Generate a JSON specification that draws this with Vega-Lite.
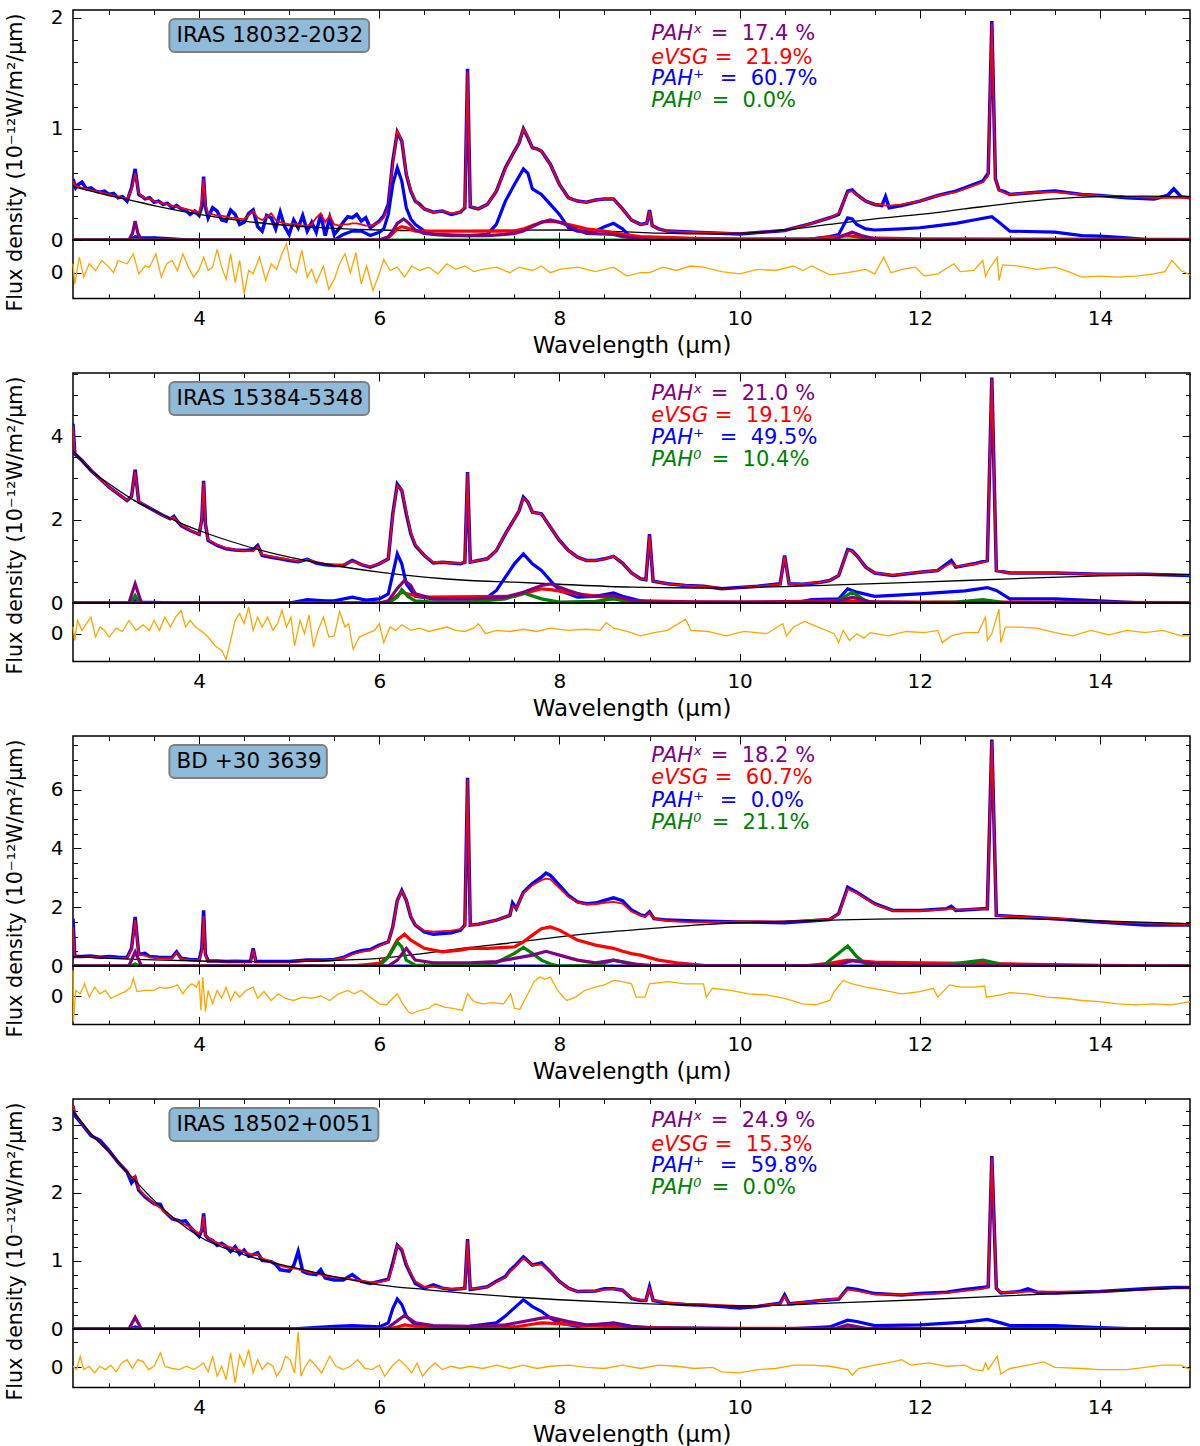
{
"$schema": "https://vega.github.io/schema/vega-lite/v6.json",
"background": "white",
"padding": {"left": 3, "top": 7, "right": 5, "bottom": 0},
"config": {
  "view": {"stroke": "black", "strokeWidth": 1.5},
  "axis": {"domain": false, "grid": false, "tickColor": "black", "tickWidth": 1, "tickSize": -8, "format": "~g",
    "labelFont": "DejaVu Sans", "labelFontSize": 20, "labelColor": "black", "labelPadding": 18,
    "titleFont": "DejaVu Sans", "titleFontSize": 23, "titleFontWeight": "normal", "titleColor": "black"},
  "text": {"font": "DejaVu Sans"}
},
"datasets": {
"s1": [
{"w":2.6,"o":0.55,"m":0.53},{"w":2.63,"o":0.47,"m":0.48},{"w":2.66,"o":0.5,"m":0.48},{"w":2.7,"o":0.52,"m":0.47},{"w":2.75,"o":0.46,"m":0.46},{"w":2.8,"o":0.47,"m":0.45},{"w":2.85,"o":0.44,"m":0.44},{"w":2.9,"o":0.43,"m":0.43},{"w":2.95,"o":0.44,"m":0.42},{"w":3.0,"o":0.41,"m":0.41},{"w":3.05,"o":0.42,"m":0.4},{"w":3.1,"o":0.38,"m":0.39},{"w":3.15,"o":0.39,"m":0.38},{"w":3.2,"o":0.35,"m":0.37},{"w":3.25,"o":0.47,"m":0.45},{"w":3.29,"o":0.64,"m":0.6},{"w":3.33,"o":0.41,"m":0.42},{"w":3.37,"o":0.39,"m":0.39},{"w":3.4,"o":0.37,"m":0.38},{"w":3.45,"o":0.38,"m":0.37},{"w":3.5,"o":0.34,"m":0.35},{"w":3.55,"o":0.35,"m":0.34},{"w":3.6,"o":0.32,"m":0.33},{"w":3.65,"o":0.33,"m":0.32},{"w":3.7,"o":0.29,"m":0.31},{"w":3.75,"o":0.31,"m":0.3},{"w":3.8,"o":0.28,"m":0.29},{"w":3.85,"o":0.27,"m":0.28},{"w":3.9,"o":0.23,"m":0.27},{"w":3.95,"o":0.26,"m":0.26},{"w":4.0,"o":0.22,"m":0.25},{"w":4.03,"o":0.3,"m":0.35},{"w":4.05,"o":0.57,"m":0.55},{"w":4.07,"o":0.3,"m":0.32},{"w":4.1,"o":0.2,"m":0.24},{"w":4.15,"o":0.29,"m":0.23},{"w":4.2,"o":0.26,"m":0.22},{"w":4.25,"o":0.18,"m":0.22},{"w":4.3,"o":0.17,"m":0.21},{"w":4.35,"o":0.27,"m":0.2},{"w":4.4,"o":0.23,"m":0.2},{"w":4.45,"o":0.14,"m":0.19},{"w":4.5,"o":0.16,"m":0.19},{"w":4.55,"o":0.24,"m":0.22},{"w":4.6,"o":0.27,"m":0.26},{"w":4.65,"o":0.12,"m":0.2},{"w":4.7,"o":0.08,"m":0.18},{"w":4.75,"o":0.22,"m":0.21},{"w":4.8,"o":0.2,"m":0.24},{"w":4.85,"o":0.1,"m":0.18},{"w":4.9,"o":0.25,"m":0.16},{"w":4.95,"o":0.12,"m":0.15},{"w":5.0,"o":0.05,"m":0.14},{"w":5.05,"o":0.18,"m":0.15},{"w":5.1,"o":0.11,"m":0.14},{"w":5.15,"o":0.22,"m":0.13},{"w":5.2,"o":0.08,"m":0.13},{"w":5.25,"o":0.16,"m":0.14},{"w":5.3,"o":0.07,"m":0.2},{"w":5.35,"o":0.23,"m":0.24},{"w":5.4,"o":0.04,"m":0.16},{"w":5.45,"o":0.2,"m":0.22},{"w":5.5,"o":0.05,"m":0.14},{"w":5.55,"o":0.1,"m":0.13},{"w":5.6,"o":0.16,"m":0.14},{"w":5.65,"o":0.21,"m":0.14},{"w":5.7,"o":0.2,"m":0.15},{"w":5.75,"o":0.23,"m":0.15},{"w":5.8,"o":0.17,"m":0.14},{"w":5.85,"o":0.2,"m":0.13},{"w":5.9,"o":0.11,"m":0.13},{"w":5.95,"o":0.14,"m":0.14},{"w":6.0,"o":0.17,"m":0.16},{"w":6.05,"o":0.22,"m":0.2},{"w":6.1,"o":0.32,"m":0.3},{"w":6.15,"o":0.71,"m":0.68},{"w":6.2,"o":0.97,"m":0.98},{"w":6.25,"o":0.89,"m":0.9},{"w":6.3,"o":0.59,"m":0.6},{"w":6.35,"o":0.44,"m":0.45},{"w":6.4,"o":0.35,"m":0.36},{"w":6.45,"o":0.32,"m":0.31},{"w":6.5,"o":0.28,"m":0.28},{"w":6.6,"o":0.25,"m":0.25},{"w":6.7,"o":0.26,"m":0.26},{"w":6.8,"o":0.23,"m":0.24},{"w":6.9,"o":0.25,"m":0.25},{"w":6.95,"o":0.29,"m":0.3},{"w":6.98,"o":1.54,"m":1.52},{"w":7.01,"o":0.3,"m":0.31},{"w":7.05,"o":0.29,"m":0.29},{"w":7.1,"o":0.28,"m":0.28},{"w":7.2,"o":0.32,"m":0.32},{"w":7.3,"o":0.44,"m":0.44},{"w":7.4,"o":0.65,"m":0.64},{"w":7.5,"o":0.8,"m":0.8},{"w":7.55,"o":0.87,"m":0.87},{"w":7.6,"o":1.0,"m":1.0},{"w":7.65,"o":0.92,"m":0.93},{"w":7.7,"o":0.83,"m":0.83},{"w":7.75,"o":0.82,"m":0.82},{"w":7.8,"o":0.8,"m":0.8},{"w":7.9,"o":0.68,"m":0.68},{"w":8.0,"o":0.5,"m":0.5},{"w":8.1,"o":0.38,"m":0.38},{"w":8.2,"o":0.35,"m":0.35},{"w":8.3,"o":0.34,"m":0.34},{"w":8.4,"o":0.36,"m":0.36},{"w":8.5,"o":0.37,"m":0.37},{"w":8.6,"o":0.37,"m":0.37},{"w":8.7,"o":0.28,"m":0.28},{"w":8.8,"o":0.18,"m":0.18},{"w":8.9,"o":0.14,"m":0.14},{"w":8.97,"o":0.15,"m":0.15},{"w":9.0,"o":0.27,"m":0.26},{"w":9.03,"o":0.13,"m":0.13},{"w":9.1,"o":0.1,"m":0.1},{"w":9.2,"o":0.08,"m":0.08},{"w":9.5,"o":0.07,"m":0.07},{"w":10.0,"o":0.055,"m":0.06},{"w":10.5,"o":0.085,"m":0.085},{"w":10.8,"o":0.15,"m":0.15},{"w":11.0,"o":0.2,"m":0.2},{"w":11.1,"o":0.23,"m":0.24},{"w":11.2,"o":0.44,"m":0.43},{"w":11.25,"o":0.45,"m":0.44},{"w":11.3,"o":0.41,"m":0.41},{"w":11.4,"o":0.35,"m":0.35},{"w":11.5,"o":0.32,"m":0.32},{"w":11.58,"o":0.31,"m":0.32},{"w":11.62,"o":0.39,"m":0.31},{"w":11.66,"o":0.29,"m":0.31},{"w":11.8,"o":0.31,"m":0.32},{"w":12.0,"o":0.35,"m":0.35},{"w":12.2,"o":0.4,"m":0.4},{"w":12.4,"o":0.44,"m":0.43},{"w":12.5,"o":0.47,"m":0.46},{"w":12.6,"o":0.5,"m":0.49},{"w":12.7,"o":0.53,"m":0.52},{"w":12.76,"o":0.6,"m":0.58},{"w":12.8,"o":1.97,"m":1.95},{"w":12.84,"o":0.55,"m":0.55},{"w":12.88,"o":0.45,"m":0.45},{"w":12.95,"o":0.43,"m":0.42},{"w":13.0,"o":0.41,"m":0.41},{"w":13.3,"o":0.43,"m":0.43},{"w":13.5,"o":0.44,"m":0.43},{"w":13.8,"o":0.41,"m":0.41},{"w":14.0,"o":0.4,"m":0.4},{"w":14.3,"o":0.38,"m":0.39},{"w":14.6,"o":0.37,"m":0.38},{"w":14.75,"o":0.4,"m":0.38},{"w":14.82,"o":0.46,"m":0.38},{"w":14.9,"o":0.39,"m":0.38},{"w":15.0,"o":0.38,"m":0.38}
],
"k1": [
{"k":"c","w":2.6,"v":0.48},{"k":"c","w":2.8,"v":0.44},{"k":"c","w":3.0,"v":0.4},{"k":"c","w":3.2,"v":0.365},{"k":"c","w":3.5,"v":0.31},{"k":"c","w":3.8,"v":0.26},{"k":"c","w":4.0,"v":0.23},{"k":"c","w":4.5,"v":0.17},{"k":"c","w":5.0,"v":0.13},{"k":"c","w":5.5,"v":0.105},{"k":"c","w":6.0,"v":0.09},{"k":"c","w":6.5,"v":0.085},{"k":"c","w":7.0,"v":0.085},{"k":"c","w":7.5,"v":0.088},{"k":"c","w":8.0,"v":0.09},{"k":"c","w":8.5,"v":0.08},{"k":"c","w":9.0,"v":0.065},{"k":"c","w":9.5,"v":0.055},{"k":"c","w":10.0,"v":0.06},{"k":"c","w":10.5,"v":0.09},{"k":"c","w":11.0,"v":0.14},{"k":"c","w":11.5,"v":0.19},{"k":"c","w":12.0,"v":0.23},{"k":"c","w":12.5,"v":0.28},{"k":"c","w":13.0,"v":0.33},{"k":"c","w":13.5,"v":0.37},{"k":"c","w":14.0,"v":0.39},{"k":"c","w":14.5,"v":0.395},{"k":"c","w":15.0,"v":0.39},
{"k":"a","w":2.6,"v":0},{"k":"a","w":3.22,"v":0},{"k":"a","w":3.26,"v":0.06},{"k":"a","w":3.29,"v":0.17},{"k":"a","w":3.32,"v":0.06},{"k":"a","w":3.36,"v":0},{"k":"a","w":6.0,"v":0},{"k":"a","w":6.1,"v":0.03},{"k":"a","w":6.15,"v":0.08},{"k":"a","w":6.2,"v":0.15},{"k":"a","w":6.27,"v":0.19},{"k":"a","w":6.33,"v":0.15},{"k":"a","w":6.4,"v":0.09},{"k":"a","w":6.5,"v":0.06},{"k":"a","w":6.6,"v":0.05},{"k":"a","w":6.8,"v":0.04},{"k":"a","w":7.2,"v":0.04},{"k":"a","w":7.4,"v":0.05},{"k":"a","w":7.5,"v":0.06},{"k":"a","w":7.6,"v":0.08},{"k":"a","w":7.7,"v":0.12},{"k":"a","w":7.8,"v":0.16},{"k":"a","w":7.9,"v":0.18},{"k":"a","w":8.0,"v":0.16},{"k":"a","w":8.1,"v":0.13},{"k":"a","w":8.2,"v":0.09},{"k":"a","w":8.3,"v":0.06},{"k":"a","w":8.6,"v":0.05},{"k":"a","w":8.7,"v":0.03},{"k":"a","w":8.8,"v":0.02},{"k":"a","w":9.0,"v":0},{"k":"a","w":11.05,"v":0},{"k":"a","w":11.15,"v":0.04},{"k":"a","w":11.25,"v":0.07},{"k":"a","w":11.35,"v":0.04},{"k":"a","w":11.5,"v":0.01},{"k":"a","w":11.7,"v":0},{"k":"a","w":15,"v":0},
{"k":"b","w":2.6,"v":0},{"k":"b","w":3.22,"v":0},{"k":"b","w":3.29,"v":0.03},{"k":"b","w":3.35,"v":0.02},{"k":"b","w":3.5,"v":0.02},{"k":"b","w":3.7,"v":0.01},{"k":"b","w":3.9,"v":0},{"k":"b","w":5.5,"v":0},{"k":"b","w":5.6,"v":0.05},{"k":"b","w":5.7,"v":0.08},{"k":"b","w":5.8,"v":0.08},{"k":"b","w":5.9,"v":0.04},{"k":"b","w":6.0,"v":0.07},{"k":"b","w":6.05,"v":0.1},{"k":"b","w":6.1,"v":0.23},{"k":"b","w":6.15,"v":0.5},{"k":"b","w":6.2,"v":0.65},{"k":"b","w":6.25,"v":0.53},{"k":"b","w":6.3,"v":0.29},{"k":"b","w":6.35,"v":0.19},{"k":"b","w":6.4,"v":0.14},{"k":"b","w":6.5,"v":0.08},{"k":"b","w":6.6,"v":0.05},{"k":"b","w":7.0,"v":0.04},{"k":"b","w":7.2,"v":0.05},{"k":"b","w":7.3,"v":0.14},{"k":"b","w":7.4,"v":0.35},{"k":"b","w":7.5,"v":0.5},{"k":"b","w":7.6,"v":0.64},{"k":"b","w":7.65,"v":0.6},{"k":"b","w":7.7,"v":0.46},{"k":"b","w":7.8,"v":0.41},{"k":"b","w":7.9,"v":0.32},{"k":"b","w":8.0,"v":0.23},{"k":"b","w":8.1,"v":0.11},{"k":"b","w":8.2,"v":0.08},{"k":"b","w":8.4,"v":0.08},{"k":"b","w":8.5,"v":0.12},{"k":"b","w":8.6,"v":0.15},{"k":"b","w":8.7,"v":0.1},{"k":"b","w":8.8,"v":0.02},{"k":"b","w":8.9,"v":0},{"k":"b","w":10.7,"v":0},{"k":"b","w":11.0,"v":0.03},{"k":"b","w":11.1,"v":0.05},{"k":"b","w":11.2,"v":0.2},{"k":"b","w":11.25,"v":0.19},{"k":"b","w":11.3,"v":0.14},{"k":"b","w":11.4,"v":0.1},{"k":"b","w":11.5,"v":0.09},{"k":"b","w":11.8,"v":0.1},{"k":"b","w":12.0,"v":0.11},{"k":"b","w":12.2,"v":0.13},{"k":"b","w":12.4,"v":0.15},{"k":"b","w":12.6,"v":0.18},{"k":"b","w":12.8,"v":0.21},{"k":"b","w":12.88,"v":0.16},{"k":"b","w":13.0,"v":0.08},{"k":"b","w":13.5,"v":0.07},{"k":"b","w":13.8,"v":0.04},{"k":"b","w":14.0,"v":0.035},{"k":"b","w":14.3,"v":0.02},{"k":"b","w":14.6,"v":0},{"k":"b","w":15,"v":0},
{"k":"e","w":2.6,"v":0},{"k":"e","w":6.0,"v":0},{"k":"e","w":6.1,"v":0.02},{"k":"e","w":6.15,"v":0.06},{"k":"e","w":6.2,"v":0.1},{"k":"e","w":6.25,"v":0.12},{"k":"e","w":6.3,"v":0.11},{"k":"e","w":6.4,"v":0.08},{"k":"e","w":7.5,"v":0.08},{"k":"e","w":7.6,"v":0.1},{"k":"e","w":7.7,"v":0.13},{"k":"e","w":7.8,"v":0.16},{"k":"e","w":7.9,"v":0.17},{"k":"e","w":8.0,"v":0.16},{"k":"e","w":8.1,"v":0.14},{"k":"e","w":8.2,"v":0.12},{"k":"e","w":8.3,"v":0.1},{"k":"e","w":8.5,"v":0.08},{"k":"e","w":8.7,"v":0.05},{"k":"e","w":8.9,"v":0.03},{"k":"e","w":9.5,"v":0.015},{"k":"e","w":10.0,"v":0.01},{"k":"e","w":10.8,"v":0.01},{"k":"e","w":11.2,"v":0.04},{"k":"e","w":11.4,"v":0.02},{"k":"e","w":12.0,"v":0.01},{"k":"e","w":15,"v":0.005},
{"k":"g","w":2.6,"v":0},{"k":"g","w":15,"v":0}
],
"r1": [
{"w":2.6,"v":0.08},{"w":2.62,"v":-0.1},{"w":2.67,"v":0.14},{"w":2.72,"v":-0.04},{"w":2.78,"v":0.08},{"w":2.85,"v":0.02},{"w":2.92,"v":0.11},{"w":3.0,"v":0.05},{"w":3.05,"v":0},{"w":3.1,"v":0.11},{"w":3.2,"v":0.08},{"w":3.27,"v":0.17},{"w":3.33,"v":-0.01},{"w":3.4,"v":0.06},{"w":3.45,"v":0.05},{"w":3.52,"v":0.17},{"w":3.58,"v":-0.04},{"w":3.64,"v":0.08},{"w":3.7,"v":0.11},{"w":3.76,"v":0.02},{"w":3.82,"v":0.17},{"w":3.88,"v":0.05},{"w":3.94,"v":-0.04},{"w":4.0,"v":0.03},{"w":4.05,"v":0.14},{"w":4.1,"v":0.02},{"w":4.15,"v":0.05},{"w":4.2,"v":0.21},{"w":4.25,"v":0.05},{"w":4.3,"v":-0.06},{"w":4.35,"v":0.17},{"w":4.4,"v":-0.09},{"w":4.45,"v":0.11},{"w":4.5,"v":-0.19},{"w":4.55,"v":0.02},{"w":4.6,"v":-0.01},{"w":4.67,"v":0.14},{"w":4.74,"v":-0.07},{"w":4.8,"v":0.08},{"w":4.86,"v":0.03},{"w":4.92,"v":0.17},{"w":4.97,"v":0.26},{"w":5.02,"v":0.05},{"w":5.08,"v":0},{"w":5.14,"v":0.2},{"w":5.2,"v":-0.04},{"w":5.25,"v":0.03},{"w":5.3,"v":-0.09},{"w":5.38,"v":0.06},{"w":5.44,"v":-0.15},{"w":5.5,"v":-0.06},{"w":5.56,"v":0.08},{"w":5.62,"v":0.17},{"w":5.68,"v":0},{"w":5.74,"v":0.18},{"w":5.8,"v":-0.1},{"w":5.86,"v":0.06},{"w":5.93,"v":-0.16},{"w":6.0,"v":-0.01},{"w":6.05,"v":0.12},{"w":6.12,"v":0.02},{"w":6.2,"v":0.05},{"w":6.28,"v":-0.04},{"w":6.36,"v":0.06},{"w":6.45,"v":0.02},{"w":6.55,"v":0.05},{"w":6.65,"v":-0.01},{"w":6.75,"v":0.08},{"w":6.85,"v":0.03},{"w":6.95,"v":0.06},{"w":7.05,"v":0.01},{"w":7.15,"v":0.03},{"w":7.3,"v":0.05},{"w":7.45,"v":0},{"w":7.55,"v":0.05},{"w":7.7,"v":0.02},{"w":7.8,"v":0.06},{"w":7.9,"v":0},{"w":8.0,"v":0.03},{"w":8.2,"v":0.05},{"w":8.4,"v":0.01},{"w":8.6,"v":0.05},{"w":8.75,"v":-0.03},{"w":8.9,"v":0},{"w":9.0,"v":0},{"w":9.15,"v":0.05},{"w":9.3,"v":0.02},{"w":9.45,"v":0.06},{"w":9.6,"v":0.05},{"w":9.8,"v":0.01},{"w":10.0,"v":-0.01},{"w":10.2,"v":0.03},{"w":10.4,"v":0.02},{"w":10.6,"v":0.06},{"w":10.7,"v":0.02},{"w":10.8,"v":0.06},{"w":11.0,"v":-0.02},{"w":11.2,"v":0},{"w":11.4,"v":0.03},{"w":11.5,"v":-0.01},{"w":11.6,"v":0.14},{"w":11.68,"v":0},{"w":11.8,"v":0.03},{"w":11.95,"v":0.05},{"w":12.05,"v":-0.03},{"w":12.2,"v":-0.01},{"w":12.38,"v":0.08},{"w":12.45,"v":0.01},{"w":12.6,"v":0.02},{"w":12.7,"v":0.11},{"w":12.73,"v":-0.03},{"w":12.76,"v":0.02},{"w":12.86,"v":0.14},{"w":12.88,"v":-0.07},{"w":12.92,"v":0.07},{"w":13.1,"v":0.06},{"w":13.3,"v":0.03},{"w":13.5,"v":0.05},{"w":13.65,"v":0.01},{"w":13.8,"v":-0.04},{"w":14.0,"v":-0.03},{"w":14.2,"v":-0.04},{"w":14.4,"v":-0.03},{"w":14.6,"v":-0.01},{"w":14.72,"v":0.01},{"w":14.8,"v":0.11},{"w":14.9,"v":0.02},{"w":15.0,"v":-0.02}
],
"t1": [
{"k":"a","t":"PAHˣ","u":"=\u00a0 17.4 %","y":1.852,"xu":9.68},
{"k":"e","t":"eVSG","u":"=\u00a0 21.9%","y":1.642,"xu":9.725},
{"k":"b","t":"PAH⁺","u":"=\u00a0 60.7%","y":1.447,"xu":9.78},
{"k":"g","t":"PAH⁰","u":"=\u00a0 0.0%","y":1.247,"xu":9.69}
],
"s2": [
{"w":2.6,"o":4.3,"m":4.25},{"w":2.62,"o":3.58,"m":3.6},{"w":2.7,"o":3.42,"m":3.42},{"w":2.8,"o":3.18,"m":3.18},{"w":2.9,"o":2.98,"m":2.98},{"w":3.0,"o":2.78,"m":2.78},{"w":3.1,"o":2.62,"m":2.62},{"w":3.2,"o":2.46,"m":2.47},{"w":3.25,"o":2.56,"m":2.56},{"w":3.29,"o":3.2,"m":3.15},{"w":3.33,"o":2.42,"m":2.44},{"w":3.4,"o":2.34,"m":2.34},{"w":3.5,"o":2.22,"m":2.22},{"w":3.6,"o":2.1,"m":2.1},{"w":3.68,"o":2.02,"m":2.02},{"w":3.72,"o":2.08,"m":2.06},{"w":3.76,"o":1.96,"m":1.96},{"w":3.8,"o":1.86,"m":1.88},{"w":3.9,"o":1.74,"m":1.75},{"w":4.0,"o":1.65,"m":1.65},{"w":4.03,"o":2.0,"m":2.0},{"w":4.05,"o":2.93,"m":2.9},{"w":4.07,"o":1.9,"m":1.9},{"w":4.1,"o":1.5,"m":1.52},{"w":4.2,"o":1.38,"m":1.4},{"w":4.3,"o":1.3,"m":1.32},{"w":4.4,"o":1.27,"m":1.28},{"w":4.5,"o":1.26,"m":1.25},{"w":4.6,"o":1.28,"m":1.24},{"w":4.65,"o":1.38,"m":1.35},{"w":4.7,"o":1.14,"m":1.16},{"w":4.8,"o":1.1,"m":1.12},{"w":4.9,"o":1.06,"m":1.08},{"w":5.0,"o":1.02,"m":1.04},{"w":5.1,"o":0.99,"m":1.0},{"w":5.2,"o":1.05,"m":1.04},{"w":5.3,"o":0.96,"m":0.98},{"w":5.4,"o":0.92,"m":0.94},{"w":5.5,"o":0.9,"m":0.92},{"w":5.6,"o":0.9,"m":0.92},{"w":5.7,"o":1.02,"m":1.0},{"w":5.8,"o":0.92,"m":0.92},{"w":5.9,"o":0.86,"m":0.88},{"w":6.0,"o":0.94,"m":0.94},{"w":6.1,"o":1.06,"m":1.06},{"w":6.15,"o":2.14,"m":2.1},{"w":6.2,"o":2.85,"m":2.82},{"w":6.25,"o":2.7,"m":2.72},{"w":6.3,"o":2.14,"m":2.18},{"w":6.35,"o":1.66,"m":1.7},{"w":6.4,"o":1.38,"m":1.4},{"w":6.5,"o":1.14,"m":1.14},{"w":6.6,"o":0.96,"m":0.98},{"w":6.7,"o":0.98,"m":0.98},{"w":6.8,"o":0.96,"m":0.96},{"w":6.9,"o":0.94,"m":0.95},{"w":6.95,"o":0.98,"m":0.98},{"w":6.98,"o":3.14,"m":3.12},{"w":7.01,"o":0.98,"m":0.98},{"w":7.1,"o":1.02,"m":1.02},{"w":7.2,"o":1.06,"m":1.06},{"w":7.3,"o":1.26,"m":1.26},{"w":7.4,"o":1.66,"m":1.66},{"w":7.5,"o":2.02,"m":2.02},{"w":7.55,"o":2.2,"m":2.2},{"w":7.6,"o":2.54,"m":2.52},{"w":7.65,"o":2.42,"m":2.42},{"w":7.7,"o":2.18,"m":2.18},{"w":7.8,"o":2.14,"m":2.14},{"w":7.9,"o":1.82,"m":1.82},{"w":8.0,"o":1.5,"m":1.5},{"w":8.1,"o":1.26,"m":1.26},{"w":8.2,"o":1.1,"m":1.1},{"w":8.3,"o":1.02,"m":1.02},{"w":8.4,"o":1.02,"m":1.02},{"w":8.5,"o":1.06,"m":1.06},{"w":8.6,"o":1.12,"m":1.12},{"w":8.7,"o":0.96,"m":0.96},{"w":8.8,"o":0.72,"m":0.72},{"w":8.9,"o":0.58,"m":0.58},{"w":8.96,"o":0.56,"m":0.56},{"w":9.0,"o":1.65,"m":1.62},{"w":9.04,"o":0.52,"m":0.52},{"w":9.2,"o":0.46,"m":0.46},{"w":9.4,"o":0.42,"m":0.42},{"w":9.6,"o":0.4,"m":0.4},{"w":9.8,"o":0.34,"m":0.36},{"w":10.0,"o":0.37,"m":0.37},{"w":10.2,"o":0.4,"m":0.4},{"w":10.45,"o":0.46,"m":0.45},{"w":10.5,"o":1.14,"m":1.12},{"w":10.55,"o":0.46,"m":0.46},{"w":10.7,"o":0.45,"m":0.46},{"w":10.9,"o":0.5,"m":0.5},{"w":11.0,"o":0.54,"m":0.54},{"w":11.1,"o":0.66,"m":0.66},{"w":11.2,"o":1.28,"m":1.26},{"w":11.25,"o":1.25,"m":1.24},{"w":11.3,"o":1.14,"m":1.14},{"w":11.4,"o":0.86,"m":0.86},{"w":11.5,"o":0.72,"m":0.72},{"w":11.7,"o":0.66,"m":0.67},{"w":12.0,"o":0.74,"m":0.74},{"w":12.2,"o":0.78,"m":0.78},{"w":12.3,"o":0.94,"m":0.9},{"w":12.35,"o":1.02,"m":0.96},{"w":12.4,"o":0.86,"m":0.88},{"w":12.6,"o":0.94,"m":0.93},{"w":12.75,"o":1.02,"m":1.0},{"w":12.8,"o":5.41,"m":5.38},{"w":12.85,"o":0.78,"m":0.78},{"w":13.0,"o":0.72,"m":0.72},{"w":13.5,"o":0.72,"m":0.72},{"w":14.0,"o":0.69,"m":0.69},{"w":14.5,"o":0.69,"m":0.69},{"w":15.0,"o":0.66,"m":0.67}
],
"k2": [
{"k":"c","w":2.6,"v":3.66},{"k":"c","w":2.8,"v":3.18},{"k":"c","w":3.0,"v":2.86},{"k":"c","w":3.25,"v":2.5},{"k":"c","w":3.5,"v":2.22},{"k":"c","w":3.75,"v":1.96},{"k":"c","w":4.0,"v":1.74},{"k":"c","w":4.5,"v":1.38},{"k":"c","w":5.0,"v":1.1},{"k":"c","w":5.5,"v":0.9},{"k":"c","w":6.0,"v":0.74},{"k":"c","w":6.5,"v":0.62},{"k":"c","w":7.0,"v":0.54},{"k":"c","w":7.5,"v":0.5},{"k":"c","w":8.0,"v":0.45},{"k":"c","w":8.8,"v":0.38},{"k":"c","w":9.5,"v":0.36},{"k":"c","w":10.0,"v":0.37},{"k":"c","w":11.0,"v":0.43},{"k":"c","w":12.0,"v":0.5},{"k":"c","w":13.0,"v":0.58},{"k":"c","w":14.0,"v":0.65},{"k":"c","w":15.0,"v":0.68},
{"k":"b","w":2.6,"v":0},{"k":"b","w":3.22,"v":0},{"k":"b","w":3.29,"v":0.06},{"k":"b","w":3.36,"v":0.02},{"k":"b","w":3.6,"v":0.01},{"k":"b","w":3.8,"v":0},{"k":"b","w":5.0,"v":0},{"k":"b","w":5.2,"v":0.08},{"k":"b","w":5.4,"v":0.05},{"k":"b","w":5.5,"v":0.05},{"k":"b","w":5.7,"v":0.14},{"k":"b","w":5.85,"v":0.07},{"k":"b","w":6.0,"v":0.1},{"k":"b","w":6.1,"v":0.22},{"k":"b","w":6.15,"v":0.7},{"k":"b","w":6.2,"v":1.18},{"k":"b","w":6.25,"v":0.94},{"k":"b","w":6.3,"v":0.46},{"k":"b","w":6.4,"v":0.16},{"k":"b","w":6.6,"v":0.1},{"k":"b","w":7.0,"v":0.1},{"k":"b","w":7.2,"v":0.14},{"k":"b","w":7.3,"v":0.3},{"k":"b","w":7.4,"v":0.62},{"k":"b","w":7.5,"v":0.94},{"k":"b","w":7.6,"v":1.18},{"k":"b","w":7.7,"v":0.94},{"k":"b","w":7.8,"v":0.78},{"k":"b","w":7.9,"v":0.54},{"k":"b","w":8.0,"v":0.3},{"k":"b","w":8.2,"v":0.14},{"k":"b","w":8.4,"v":0.16},{"k":"b","w":8.6,"v":0.24},{"k":"b","w":8.7,"v":0.16},{"k":"b","w":8.9,"v":0.05},{"k":"b","w":9.1,"v":0},{"k":"b","w":10.6,"v":0},{"k":"b","w":10.8,"v":0.08},{"k":"b","w":11.1,"v":0.1},{"k":"b","w":11.2,"v":0.34},{"k":"b","w":11.3,"v":0.26},{"k":"b","w":11.5,"v":0.16},{"k":"b","w":12.0,"v":0.22},{"k":"b","w":12.5,"v":0.29},{"k":"b","w":12.75,"v":0.37},{"k":"b","w":12.85,"v":0.3},{"k":"b","w":13.0,"v":0.1},{"k":"b","w":13.5,"v":0.1},{"k":"b","w":14.0,"v":0.05},{"k":"b","w":14.5,"v":0},{"k":"b","w":15,"v":0},
{"k":"e","w":2.6,"v":0},{"k":"e","w":6.05,"v":0},{"k":"e","w":6.15,"v":0.1},{"k":"e","w":6.25,"v":0.26},{"k":"e","w":6.35,"v":0.2},{"k":"e","w":6.5,"v":0.14},{"k":"e","w":7.5,"v":0.16},{"k":"e","w":7.7,"v":0.28},{"k":"e","w":7.8,"v":0.34},{"k":"e","w":7.9,"v":0.32},{"k":"e","w":8.2,"v":0.22},{"k":"e","w":8.5,"v":0.14},{"k":"e","w":8.8,"v":0.06},{"k":"e","w":9.5,"v":0.03},{"k":"e","w":10.0,"v":0.02},{"k":"e","w":11.2,"v":0.05},{"k":"e","w":11.5,"v":0.03},{"k":"e","w":13.0,"v":0.02},{"k":"e","w":15,"v":0.01},
{"k":"a","w":2.6,"v":0},{"k":"a","w":3.22,"v":0},{"k":"a","w":3.29,"v":0.46},{"k":"a","w":3.36,"v":0},{"k":"a","w":6.0,"v":0},{"k":"a","w":6.1,"v":0.05},{"k":"a","w":6.2,"v":0.35},{"k":"a","w":6.28,"v":0.54},{"k":"a","w":6.35,"v":0.42},{"k":"a","w":6.4,"v":0.22},{"k":"a","w":6.6,"v":0.1},{"k":"a","w":7.0,"v":0.1},{"k":"a","w":7.4,"v":0.14},{"k":"a","w":7.6,"v":0.26},{"k":"a","w":7.8,"v":0.42},{"k":"a","w":7.9,"v":0.46},{"k":"a","w":8.1,"v":0.3},{"k":"a","w":8.3,"v":0.16},{"k":"a","w":8.6,"v":0.18},{"k":"a","w":8.8,"v":0.06},{"k":"a","w":9.0,"v":0.03},{"k":"a","w":11.05,"v":0.02},{"k":"a","w":11.25,"v":0.14},{"k":"a","w":11.45,"v":0.03},{"k":"a","w":12.0,"v":0.01},{"k":"a","w":15,"v":0},
{"k":"g","w":2.6,"v":0},{"k":"g","w":3.24,"v":0},{"k":"g","w":3.29,"v":0.18},{"k":"g","w":3.34,"v":0},{"k":"g","w":6.1,"v":0},{"k":"g","w":6.2,"v":0.14},{"k":"g","w":6.25,"v":0.32},{"k":"g","w":6.32,"v":0.15},{"k":"g","w":6.4,"v":0.05},{"k":"g","w":6.6,"v":0.02},{"k":"g","w":7.0,"v":0.02},{"k":"g","w":7.4,"v":0.1},{"k":"g","w":7.6,"v":0.24},{"k":"g","w":7.8,"v":0.1},{"k":"g","w":8.0,"v":0.02},{"k":"g","w":8.4,"v":0.04},{"k":"g","w":8.6,"v":0.1},{"k":"g","w":8.8,"v":0.02},{"k":"g","w":9.0,"v":0},{"k":"g","w":11.05,"v":0},{"k":"g","w":11.25,"v":0.26},{"k":"g","w":11.4,"v":0.05},{"k":"g","w":11.5,"v":0},{"k":"g","w":12.4,"v":0.02},{"k":"g","w":12.7,"v":0.08},{"k":"g","w":12.9,"v":0.02},{"k":"g","w":13.0,"v":0},{"k":"g","w":15,"v":0}
],
"r2": [
{"w":2.6,"v":0.06},{"w":2.62,"v":-0.06},{"w":2.65,"v":0.12},{"w":2.7,"v":0.03},{"w":2.75,"v":0.09},{"w":2.8,"v":0.15},{"w":2.85,"v":-0.03},{"w":2.9,"v":0.06},{"w":2.95,"v":0.03},{"w":3.0,"v":-0.03},{"w":3.08,"v":0.05},{"w":3.15,"v":0.02},{"w":3.22,"v":0.12},{"w":3.3,"v":0.03},{"w":3.38,"v":0.08},{"w":3.45,"v":0.03},{"w":3.5,"v":0.12},{"w":3.56,"v":0.03},{"w":3.62,"v":0.15},{"w":3.68,"v":0.06},{"w":3.74,"v":0.15},{"w":3.8,"v":0.21},{"w":3.85,"v":0.06},{"w":3.9,"v":0.12},{"w":3.96,"v":0.06},{"w":4.03,"v":0.02},{"w":4.1,"v":-0.03},{"w":4.18,"v":-0.11},{"w":4.25,"v":-0.15},{"w":4.3,"v":-0.23},{"w":4.35,"v":-0.06},{"w":4.4,"v":0.12},{"w":4.45,"v":0.18},{"w":4.5,"v":0.09},{"w":4.55,"v":0.24},{"w":4.6,"v":0.03},{"w":4.65,"v":0.15},{"w":4.7,"v":0.06},{"w":4.76,"v":0.15},{"w":4.82,"v":0.03},{"w":4.87,"v":0.09},{"w":4.92,"v":0.21},{"w":4.97,"v":0.06},{"w":5.02,"v":0.15},{"w":5.06,"v":-0.11},{"w":5.12,"v":0.12},{"w":5.17,"v":0},{"w":5.22,"v":0.17},{"w":5.27,"v":-0.12},{"w":5.32,"v":0.03},{"w":5.38,"v":0.15},{"w":5.44,"v":-0.03},{"w":5.5,"v":-0.02},{"w":5.56,"v":0.2},{"w":5.62,"v":0.06},{"w":5.66,"v":0.09},{"w":5.71,"v":-0.14},{"w":5.78,"v":-0.03},{"w":5.86,"v":0},{"w":5.95,"v":0.03},{"w":6.0,"v":0.09},{"w":6.05,"v":-0.08},{"w":6.12,"v":0.06},{"w":6.18,"v":0.03},{"w":6.25,"v":0.08},{"w":6.35,"v":0.03},{"w":6.45,"v":0.05},{"w":6.55,"v":0.02},{"w":6.65,"v":0.04},{"w":6.75,"v":0.06},{"w":6.85,"v":0.03},{"w":6.95,"v":0.02},{"w":7.05,"v":0.05},{"w":7.1,"v":0.09},{"w":7.18,"v":0},{"w":7.3,"v":0.03},{"w":7.45,"v":0.02},{"w":7.6,"v":0.04},{"w":7.75,"v":0.02},{"w":7.9,"v":0.05},{"w":8.1,"v":0.03},{"w":8.3,"v":0.04},{"w":8.45,"v":0.03},{"w":8.52,"v":0.1},{"w":8.6,"v":0.05},{"w":8.75,"v":0.02},{"w":8.9,"v":-0.02},{"w":9.05,"v":0.01},{"w":9.2,"v":0.03},{"w":9.4,"v":0.13},{"w":9.46,"v":0.03},{"w":9.65,"v":0.02},{"w":9.85,"v":-0.02},{"w":10.05,"v":0.02},{"w":10.3,"v":0},{"w":10.48,"v":0.09},{"w":10.52,"v":-0.02},{"w":10.6,"v":0.06},{"w":10.72,"v":0.11},{"w":10.9,"v":0.05},{"w":11.05,"v":0},{"w":11.1,"v":-0.08},{"w":11.15,"v":0.03},{"w":11.22,"v":-0.06},{"w":11.3,"v":0},{"w":11.38,"v":-0.04},{"w":11.45,"v":0.01},{"w":11.65,"v":-0.02},{"w":11.85,"v":0.02},{"w":12.05,"v":0.01},{"w":12.2,"v":0.03},{"w":12.25,"v":-0.08},{"w":12.35,"v":-0.02},{"w":12.5,"v":0.01},{"w":12.65,"v":0.01},{"w":12.73,"v":0.15},{"w":12.75,"v":-0.06},{"w":12.8,"v":0},{"w":12.88,"v":0.22},{"w":12.9,"v":-0.08},{"w":12.95,"v":0.06},{"w":13.1,"v":0.06},{"w":13.3,"v":0.05},{"w":13.5,"v":0.01},{"w":13.7,"v":-0.02},{"w":13.9,"v":0.03},{"w":14.1,"v":-0.01},{"w":14.3,"v":0.03},{"w":14.5,"v":0.01},{"w":14.7,"v":0.03},{"w":14.9,"v":-0.02},{"w":15.0,"v":-0.02}
],
"t2": [
{"k":"a","t":"PAHˣ","u":"=\u00a0 21.0 %","y":5.022,"xu":9.68},
{"k":"e","t":"eVSG","u":"=\u00a0 19.1%","y":4.482,"xu":9.725},
{"k":"b","t":"PAH⁺","u":"=\u00a0 49.5%","y":3.952,"xu":9.78},
{"k":"g","t":"PAH⁰","u":"=\u00a0 10.4%","y":3.422,"xu":9.69}
],
"s3": [
{"w":2.6,"o":1.61,"m":1.33},{"w":2.62,"o":0.32,"m":0.32},{"w":2.7,"o":0.32,"m":0.3},{"w":2.8,"o":0.34,"m":0.3},{"w":2.9,"o":0.3,"m":0.29},{"w":3.0,"o":0.32,"m":0.28},{"w":3.1,"o":0.3,"m":0.27},{"w":3.2,"o":0.29,"m":0.27},{"w":3.25,"o":0.6,"m":0.55},{"w":3.29,"o":1.67,"m":1.56},{"w":3.33,"o":0.4,"m":0.38},{"w":3.4,"o":0.43,"m":0.35},{"w":3.45,"o":0.32,"m":0.3},{"w":3.55,"o":0.3,"m":0.27},{"w":3.7,"o":0.29,"m":0.25},{"w":3.75,"o":0.48,"m":0.45},{"w":3.8,"o":0.26,"m":0.24},{"w":3.9,"o":0.22,"m":0.21},{"w":4.0,"o":0.2,"m":0.19},{"w":4.03,"o":0.6,"m":0.5},{"w":4.05,"o":1.89,"m":1.7},{"w":4.07,"o":0.4,"m":0.35},{"w":4.1,"o":0.17,"m":0.17},{"w":4.2,"o":0.17,"m":0.16},{"w":4.3,"o":0.15,"m":0.15},{"w":4.4,"o":0.16,"m":0.15},{"w":4.5,"o":0.15,"m":0.14},{"w":4.57,"o":0.15,"m":0.14},{"w":4.6,"o":0.6,"m":0.55},{"w":4.63,"o":0.15,"m":0.14},{"w":4.8,"o":0.15,"m":0.14},{"w":5.0,"o":0.15,"m":0.14},{"w":5.2,"o":0.2,"m":0.17},{"w":5.4,"o":0.2,"m":0.19},{"w":5.5,"o":0.22,"m":0.22},{"w":5.6,"o":0.29,"m":0.28},{"w":5.7,"o":0.43,"m":0.4},{"w":5.8,"o":0.52,"m":0.48},{"w":5.9,"o":0.56,"m":0.53},{"w":6.0,"o":0.71,"m":0.68},{"w":6.1,"o":0.82,"m":0.82},{"w":6.15,"o":1.33,"m":1.3},{"w":6.2,"o":2.23,"m":2.2},{"w":6.25,"o":2.57,"m":2.55},{"w":6.3,"o":2.23,"m":2.25},{"w":6.35,"o":1.67,"m":1.7},{"w":6.4,"o":1.39,"m":1.4},{"w":6.5,"o":1.16,"m":1.2},{"w":6.6,"o":1.08,"m":1.17},{"w":6.8,"o":1.13,"m":1.2},{"w":6.9,"o":1.22,"m":1.25},{"w":6.95,"o":1.39,"m":1.35},{"w":6.98,"o":6.4,"m":6.35},{"w":7.01,"o":1.39,"m":1.4},{"w":7.1,"o":1.42,"m":1.42},{"w":7.3,"o":1.56,"m":1.56},{"w":7.45,"o":1.72,"m":1.72},{"w":7.48,"o":2.14,"m":2.05},{"w":7.52,"o":1.95,"m":1.95},{"w":7.6,"o":2.51,"m":2.48},{"w":7.7,"o":2.8,"m":2.75},{"w":7.8,"o":3.02,"m":2.92},{"w":7.85,"o":3.16,"m":2.97},{"w":7.9,"o":3.08,"m":2.95},{"w":8.0,"o":2.74,"m":2.65},{"w":8.1,"o":2.4,"m":2.35},{"w":8.2,"o":2.18,"m":2.16},{"w":8.3,"o":2.12,"m":2.1},{"w":8.4,"o":2.14,"m":2.1},{"w":8.5,"o":2.23,"m":2.15},{"w":8.6,"o":2.32,"m":2.18},{"w":8.7,"o":2.22,"m":2.12},{"w":8.8,"o":1.9,"m":1.85},{"w":8.9,"o":1.74,"m":1.72},{"w":8.95,"o":1.7,"m":1.68},{"w":9.0,"o":1.84,"m":1.8},{"w":9.05,"o":1.61,"m":1.62},{"w":9.2,"o":1.56,"m":1.53},{"w":9.5,"o":1.53,"m":1.48},{"w":10.0,"o":1.5,"m":1.52},{"w":10.5,"o":1.47,"m":1.52},{"w":11.0,"o":1.58,"m":1.6},{"w":11.1,"o":1.78,"m":1.75},{"w":11.2,"o":2.68,"m":2.62},{"w":11.3,"o":2.51,"m":2.48},{"w":11.5,"o":2.12,"m":2.1},{"w":11.7,"o":1.89,"m":1.88},{"w":12.0,"o":1.89,"m":1.87},{"w":12.3,"o":1.95,"m":1.93},{"w":12.35,"o":2.03,"m":1.95},{"w":12.4,"o":1.89,"m":1.92},{"w":12.7,"o":1.95,"m":1.94},{"w":12.75,"o":1.95,"m":1.95},{"w":12.8,"o":7.7,"m":7.65},{"w":12.85,"o":1.72,"m":1.72},{"w":13.0,"o":1.69,"m":1.69},{"w":13.5,"o":1.61,"m":1.62},{"w":14.0,"o":1.5,"m":1.52},{"w":14.5,"o":1.39,"m":1.45},{"w":15.0,"o":1.39,"m":1.42}
],
"k3": [
{"k":"c","w":2.6,"v":0.32},{"k":"c","w":3.0,"v":0.26},{"k":"c","w":3.5,"v":0.21},{"k":"c","w":4.0,"v":0.17},{"k":"c","w":4.5,"v":0.15},{"k":"c","w":5.0,"v":0.15},{"k":"c","w":5.5,"v":0.19},{"k":"c","w":6.0,"v":0.26},{"k":"c","w":6.5,"v":0.43},{"k":"c","w":7.0,"v":0.63},{"k":"c","w":7.5,"v":0.8},{"k":"c","w":8.0,"v":0.99},{"k":"c","w":8.5,"v":1.15},{"k":"c","w":9.0,"v":1.27},{"k":"c","w":9.5,"v":1.39},{"k":"c","w":10.0,"v":1.47},{"k":"c","w":11.0,"v":1.56},{"k":"c","w":12.0,"v":1.61},{"k":"c","w":13.0,"v":1.61},{"k":"c","w":14.0,"v":1.53},{"k":"c","w":15.0,"v":1.44},
{"k":"b","w":2.6,"v":0},{"k":"b","w":15,"v":0},
{"k":"e","w":2.6,"v":0},{"k":"e","w":5.7,"v":0},{"k":"e","w":5.8,"v":0.03},{"k":"e","w":6.0,"v":0.09},{"k":"e","w":6.1,"v":0.32},{"k":"e","w":6.2,"v":0.88},{"k":"e","w":6.28,"v":1.08},{"k":"e","w":6.35,"v":0.88},{"k":"e","w":6.5,"v":0.6},{"k":"e","w":6.7,"v":0.48},{"k":"e","w":6.9,"v":0.54},{"k":"e","w":7.0,"v":0.6},{"k":"e","w":7.2,"v":0.6},{"k":"e","w":7.5,"v":0.65},{"k":"e","w":7.6,"v":0.82},{"k":"e","w":7.7,"v":1.05},{"k":"e","w":7.8,"v":1.27},{"k":"e","w":7.9,"v":1.33},{"k":"e","w":8.0,"v":1.22},{"k":"e","w":8.1,"v":1.05},{"k":"e","w":8.2,"v":0.88},{"k":"e","w":8.4,"v":0.71},{"k":"e","w":8.6,"v":0.6},{"k":"e","w":8.7,"v":0.5},{"k":"e","w":8.8,"v":0.42},{"k":"e","w":8.9,"v":0.37},{"k":"e","w":9.1,"v":0.2},{"k":"e","w":9.3,"v":0.11},{"k":"e","w":9.6,"v":0.02},{"k":"e","w":10.7,"v":0},{"k":"e","w":11.0,"v":0.09},{"k":"e","w":11.2,"v":0.2},{"k":"e","w":11.5,"v":0.13},{"k":"e","w":12.0,"v":0.11},{"k":"e","w":12.5,"v":0.09},{"k":"e","w":13.0,"v":0.07},{"k":"e","w":14.0,"v":0.02},{"k":"e","w":15,"v":0},
{"k":"g","w":2.6,"v":0},{"k":"g","w":3.24,"v":0},{"k":"g","w":3.29,"v":0.07},{"k":"g","w":3.34,"v":0},{"k":"g","w":6.0,"v":0},{"k":"g","w":6.1,"v":0.3},{"k":"g","w":6.2,"v":0.82},{"k":"g","w":6.25,"v":0.65},{"k":"g","w":6.3,"v":0.2},{"k":"g","w":6.4,"v":0.03},{"k":"g","w":7.0,"v":0.02},{"k":"g","w":7.3,"v":0.11},{"k":"g","w":7.5,"v":0.43},{"k":"g","w":7.6,"v":0.63},{"k":"g","w":7.7,"v":0.43},{"k":"g","w":7.8,"v":0.2},{"k":"g","w":7.9,"v":0.07},{"k":"g","w":8.0,"v":0},{"k":"g","w":8.4,"v":0.02},{"k":"g","w":8.6,"v":0.2},{"k":"g","w":8.8,"v":0.09},{"k":"g","w":8.9,"v":0},{"k":"g","w":10.8,"v":0},{"k":"g","w":10.95,"v":0.07},{"k":"g","w":11.2,"v":0.68},{"k":"g","w":11.3,"v":0.32},{"k":"g","w":11.4,"v":0.07},{"k":"g","w":11.6,"v":0},{"k":"g","w":12.3,"v":0.05},{"k":"g","w":12.7,"v":0.2},{"k":"g","w":12.9,"v":0.07},{"k":"g","w":13.0,"v":0},{"k":"g","w":15,"v":0},
{"k":"a","w":2.6,"v":0},{"k":"a","w":3.22,"v":0},{"k":"a","w":3.29,"v":0.48},{"k":"a","w":3.36,"v":0},{"k":"a","w":6.1,"v":0},{"k":"a","w":6.2,"v":0.2},{"k":"a","w":6.3,"v":0.6},{"k":"a","w":6.4,"v":0.2},{"k":"a","w":6.6,"v":0.11},{"k":"a","w":7.0,"v":0.11},{"k":"a","w":7.3,"v":0.15},{"k":"a","w":7.5,"v":0.26},{"k":"a","w":7.7,"v":0.37},{"k":"a","w":7.85,"v":0.5},{"k":"a","w":8.0,"v":0.37},{"k":"a","w":8.2,"v":0.2},{"k":"a","w":8.4,"v":0.11},{"k":"a","w":8.6,"v":0.2},{"k":"a","w":8.8,"v":0.07},{"k":"a","w":9.0,"v":0.02},{"k":"a","w":11.05,"v":0.01},{"k":"a","w":11.25,"v":0.18},{"k":"a","w":11.5,"v":0.07},{"k":"a","w":12.0,"v":0.02},{"k":"a","w":15,"v":0}
],
"r3": [
{"w":2.6,"v":0.23},{"w":2.605,"v":-0.23},{"w":2.63,"v":0.05},{"w":2.68,"v":0.02},{"w":2.73,"v":0.11},{"w":2.78,"v":-0.01},{"w":2.84,"v":0.08},{"w":2.9,"v":0.02},{"w":2.96,"v":0.05},{"w":3.02,"v":-0.02},{"w":3.1,"v":0.01},{"w":3.18,"v":0.04},{"w":3.24,"v":0.08},{"w":3.27,"v":0.16},{"w":3.31,"v":0.04},{"w":3.4,"v":0.05},{"w":3.5,"v":0.05},{"w":3.56,"v":0.08},{"w":3.62,"v":0.07},{"w":3.7,"v":0.08},{"w":3.76,"v":0.1},{"w":3.82,"v":0.02},{"w":3.87,"v":0.08},{"w":3.92,"v":0.11},{"w":3.97,"v":0.08},{"w":4.0,"v":0.14},{"w":4.02,"v":-0.13},{"w":4.04,"v":0.17},{"w":4.07,"v":-0.14},{"w":4.1,"v":0.05},{"w":4.15,"v":-0.07},{"w":4.2,"v":0.05},{"w":4.25,"v":-0.02},{"w":4.3,"v":0.08},{"w":4.35,"v":-0.04},{"w":4.4,"v":0.04},{"w":4.45,"v":-0.01},{"w":4.52,"v":0.05},{"w":4.6,"v":0.08},{"w":4.65,"v":-0.02},{"w":4.72,"v":0.04},{"w":4.8,"v":-0.04},{"w":4.88,"v":0.02},{"w":4.95,"v":-0.02},{"w":5.05,"v":-0.04},{"w":5.15,"v":-0.01},{"w":5.25,"v":-0.02},{"w":5.35,"v":0},{"w":5.45,"v":-0.04},{"w":5.55,"v":0.02},{"w":5.65,"v":0.05},{"w":5.72,"v":0.02},{"w":5.8,"v":0.05},{"w":5.9,"v":-0.01},{"w":6.0,"v":-0.07},{"w":6.08,"v":-0.08},{"w":6.15,"v":-0.02},{"w":6.2,"v":0.02},{"w":6.26,"v":-0.07},{"w":6.32,"v":-0.14},{"w":6.36,"v":-0.16},{"w":6.45,"v":-0.13},{"w":6.55,"v":-0.11},{"w":6.62,"v":-0.07},{"w":6.72,"v":-0.1},{"w":6.82,"v":-0.11},{"w":6.92,"v":-0.13},{"w":6.98,"v":0.02},{"w":7.05,"v":-0.05},{"w":7.15,"v":-0.07},{"w":7.25,"v":-0.06},{"w":7.38,"v":-0.07},{"w":7.46,"v":0.02},{"w":7.5,"v":-0.11},{"w":7.56,"v":-0.12},{"w":7.65,"v":0.02},{"w":7.72,"v":0.13},{"w":7.78,"v":0.17},{"w":7.84,"v":0.15},{"w":7.9,"v":0.17},{"w":7.98,"v":0.05},{"w":8.08,"v":-0.04},{"w":8.18,"v":-0.01},{"w":8.28,"v":0.05},{"w":8.4,"v":0.08},{"w":8.5,"v":0.1},{"w":8.6,"v":0.14},{"w":8.7,"v":0.13},{"w":8.8,"v":0.11},{"w":8.85,"v":-0.01},{"w":8.95,"v":-0.01},{"w":9.0,"v":0.11},{"w":9.2,"v":0.13},{"w":9.4,"v":0.11},{"w":9.6,"v":0.11},{"w":9.63,"v":-0.01},{"w":9.7,"v":0.07},{"w":9.9,"v":0.05},{"w":10.1,"v":0.02},{"w":10.3,"v":0.01},{"w":10.5,"v":-0.02},{"w":10.7,"v":-0.07},{"w":10.85,"v":-0.08},{"w":11.0,"v":-0.04},{"w":11.05,"v":0.04},{"w":11.1,"v":0.09},{"w":11.15,"v":0.14},{"w":11.25,"v":0.11},{"w":11.4,"v":0.08},{"w":11.6,"v":0.05},{"w":11.8,"v":0.02},{"w":12.0,"v":0.04},{"w":12.15,"v":0.07},{"w":12.2,"v":-0.01},{"w":12.33,"v":0.1},{"w":12.45,"v":0.08},{"w":12.6,"v":0.08},{"w":12.72,"v":0.09},{"w":12.74,"v":-0.01},{"w":12.9,"v":0.01},{"w":13.0,"v":0.03},{"w":13.2,"v":0.02},{"w":13.4,"v":-0.01},{"w":13.6,"v":-0.02},{"w":13.8,"v":-0.04},{"w":14.0,"v":-0.05},{"w":14.2,"v":-0.07},{"w":14.4,"v":-0.08},{"w":14.6,"v":-0.07},{"w":14.8,"v":-0.08},{"w":15.0,"v":-0.05}
],
"t3": [
{"k":"a","t":"PAHˣ","u":"=\u00a0 18.2 %","y":7.152,"xu":9.68},
{"k":"e","t":"eVSG","u":"=\u00a0 60.7%","y":6.382,"xu":9.725},
{"k":"b","t":"PAH⁺","u":"=\u00a0 0.0%","y":5.622,"xu":9.78},
{"k":"g","t":"PAH⁰","u":"=\u00a0 21.1%","y":4.872,"xu":9.69}
],
"s4": [
{"w":2.6,"o":3.28,"m":3.28},{"w":2.62,"o":3.14,"m":3.18},{"w":2.7,"o":3.01,"m":3.02},{"w":2.8,"o":2.84,"m":2.86},{"w":2.9,"o":2.77,"m":2.74},{"w":3.0,"o":2.62,"m":2.6},{"w":3.1,"o":2.45,"m":2.45},{"w":3.2,"o":2.31,"m":2.32},{"w":3.25,"o":2.15,"m":2.22},{"w":3.29,"o":2.22,"m":2.25},{"w":3.33,"o":2.04,"m":2.06},{"w":3.4,"o":1.94,"m":1.96},{"w":3.5,"o":1.84,"m":1.84},{"w":3.57,"o":1.83,"m":1.78},{"w":3.6,"o":1.75,"m":1.74},{"w":3.7,"o":1.62,"m":1.64},{"w":3.8,"o":1.58,"m":1.56},{"w":3.85,"o":1.59,"m":1.53},{"w":3.9,"o":1.5,"m":1.5},{"w":4.0,"o":1.36,"m":1.4},{"w":4.03,"o":1.45,"m":1.45},{"w":4.05,"o":1.7,"m":1.66},{"w":4.07,"o":1.38,"m":1.38},{"w":4.1,"o":1.33,"m":1.34},{"w":4.15,"o":1.3,"m":1.3},{"w":4.2,"o":1.23,"m":1.27},{"w":4.25,"o":1.26,"m":1.24},{"w":4.3,"o":1.21,"m":1.22},{"w":4.35,"o":1.14,"m":1.2},{"w":4.4,"o":1.21,"m":1.18},{"w":4.45,"o":1.1,"m":1.16},{"w":4.5,"o":1.16,"m":1.13},{"w":4.55,"o":1.07,"m":1.11},{"w":4.6,"o":1.09,"m":1.09},{"w":4.65,"o":1.12,"m":1.1},{"w":4.7,"o":1.01,"m":1.04},{"w":4.8,"o":0.99,"m":0.99},{"w":4.85,"o":0.95,"m":0.97},{"w":4.9,"o":0.87,"m":0.93},{"w":5.0,"o":0.85,"m":0.9},{"w":5.05,"o":0.93,"m":0.89},{"w":5.1,"o":1.14,"m":0.88},{"w":5.15,"o":0.85,"m":0.86},{"w":5.2,"o":0.82,"m":0.84},{"w":5.3,"o":0.8,"m":0.82},{"w":5.35,"o":0.87,"m":0.8},{"w":5.4,"o":0.75,"m":0.78},{"w":5.5,"o":0.72,"m":0.76},{"w":5.6,"o":0.72,"m":0.75},{"w":5.7,"o":0.8,"m":0.73},{"w":5.8,"o":0.7,"m":0.71},{"w":5.9,"o":0.67,"m":0.69},{"w":6.0,"o":0.7,"m":0.69},{"w":6.1,"o":0.73,"m":0.72},{"w":6.15,"o":0.97,"m":0.92},{"w":6.2,"o":1.23,"m":1.22},{"w":6.25,"o":1.16,"m":1.18},{"w":6.3,"o":0.94,"m":0.97},{"w":6.35,"o":0.8,"m":0.82},{"w":6.4,"o":0.67,"m":0.7},{"w":6.5,"o":0.6,"m":0.62},{"w":6.6,"o":0.65,"m":0.62},{"w":6.7,"o":0.6,"m":0.6},{"w":6.8,"o":0.58,"m":0.59},{"w":6.9,"o":0.59,"m":0.59},{"w":6.95,"o":0.6,"m":0.6},{"w":6.98,"o":1.32,"m":1.3},{"w":7.01,"o":0.58,"m":0.59},{"w":7.1,"o":0.6,"m":0.6},{"w":7.2,"o":0.62,"m":0.62},{"w":7.3,"o":0.7,"m":0.69},{"w":7.4,"o":0.77,"m":0.76},{"w":7.45,"o":0.86,"m":0.84},{"w":7.5,"o":0.92,"m":0.9},{"w":7.6,"o":1.06,"m":1.04},{"w":7.7,"o":0.94,"m":0.94},{"w":7.8,"o":0.97,"m":0.95},{"w":7.9,"o":0.84,"m":0.84},{"w":8.0,"o":0.7,"m":0.7},{"w":8.1,"o":0.6,"m":0.6},{"w":8.2,"o":0.55,"m":0.55},{"w":8.4,"o":0.56,"m":0.56},{"w":8.5,"o":0.59,"m":0.58},{"w":8.6,"o":0.59,"m":0.59},{"w":8.7,"o":0.57,"m":0.57},{"w":8.8,"o":0.45,"m":0.46},{"w":8.9,"o":0.42,"m":0.43},{"w":8.96,"o":0.42,"m":0.42},{"w":9.0,"o":0.62,"m":0.6},{"w":9.04,"o":0.42,"m":0.42},{"w":9.2,"o":0.38,"m":0.39},{"w":9.4,"o":0.36,"m":0.37},{"w":9.6,"o":0.35,"m":0.36},{"w":9.8,"o":0.33,"m":0.35},{"w":10.0,"o":0.31,"m":0.34},{"w":10.2,"o":0.33,"m":0.34},{"w":10.45,"o":0.38,"m":0.37},{"w":10.5,"o":0.5,"m":0.48},{"w":10.55,"o":0.37,"m":0.37},{"w":10.7,"o":0.39,"m":0.39},{"w":10.9,"o":0.42,"m":0.42},{"w":11.1,"o":0.44,"m":0.45},{"w":11.2,"o":0.6,"m":0.58},{"w":11.3,"o":0.58,"m":0.56},{"w":11.5,"o":0.52,"m":0.51},{"w":11.8,"o":0.5,"m":0.51},{"w":12.0,"o":0.52,"m":0.51},{"w":12.3,"o":0.54,"m":0.53},{"w":12.5,"o":0.58,"m":0.56},{"w":12.7,"o":0.61,"m":0.59},{"w":12.76,"o":0.62,"m":0.62},{"w":12.8,"o":2.54,"m":2.52},{"w":12.85,"o":0.6,"m":0.6},{"w":12.9,"o":0.53,"m":0.54},{"w":13.1,"o":0.55,"m":0.54},{"w":13.2,"o":0.59,"m":0.55},{"w":13.3,"o":0.54,"m":0.55},{"w":13.5,"o":0.53,"m":0.55},{"w":14.0,"o":0.55,"m":0.55},{"w":14.5,"o":0.59,"m":0.58},{"w":14.8,"o":0.61,"m":0.6},{"w":15.0,"o":0.61,"m":0.61}
],
"k4": [
{"k":"c","w":2.6,"v":3.21},{"k":"c","w":2.8,"v":2.87},{"k":"c","w":3.0,"v":2.6},{"k":"c","w":3.2,"v":2.31},{"k":"c","w":3.5,"v":1.89},{"k":"c","w":4.0,"v":1.36},{"k":"c","w":4.5,"v":1.09},{"k":"c","w":5.0,"v":0.92},{"k":"c","w":5.5,"v":0.77},{"k":"c","w":6.0,"v":0.65},{"k":"c","w":6.5,"v":0.58},{"k":"c","w":7.0,"v":0.52},{"k":"c","w":7.5,"v":0.47},{"k":"c","w":8.0,"v":0.43},{"k":"c","w":8.8,"v":0.38},{"k":"c","w":9.5,"v":0.35},{"k":"c","w":10.0,"v":0.34},{"k":"c","w":10.5,"v":0.35},{"k":"c","w":11.0,"v":0.38},{"k":"c","w":12.0,"v":0.43},{"k":"c","w":13.0,"v":0.49},{"k":"c","w":14.0,"v":0.55},{"k":"c","w":15.0,"v":0.61},
{"k":"b","w":2.6,"v":0},{"k":"b","w":3.22,"v":0},{"k":"b","w":3.29,"v":0.03},{"k":"b","w":3.36,"v":0},{"k":"b","w":5.0,"v":0},{"k":"b","w":5.5,"v":0.04},{"k":"b","w":5.7,"v":0.05},{"k":"b","w":6.0,"v":0.03},{"k":"b","w":6.1,"v":0.09},{"k":"b","w":6.15,"v":0.3},{"k":"b","w":6.2,"v":0.44},{"k":"b","w":6.25,"v":0.36},{"k":"b","w":6.3,"v":0.19},{"k":"b","w":6.4,"v":0.06},{"k":"b","w":6.6,"v":0.03},{"k":"b","w":7.0,"v":0.04},{"k":"b","w":7.3,"v":0.09},{"k":"b","w":7.4,"v":0.19},{"k":"b","w":7.5,"v":0.31},{"k":"b","w":7.6,"v":0.43},{"k":"b","w":7.7,"v":0.33},{"k":"b","w":7.8,"v":0.26},{"k":"b","w":7.9,"v":0.16},{"k":"b","w":8.0,"v":0.09},{"k":"b","w":8.2,"v":0.04},{"k":"b","w":8.4,"v":0.06},{"k":"b","w":8.6,"v":0.09},{"k":"b","w":8.8,"v":0.04},{"k":"b","w":9.0,"v":0.02},{"k":"b","w":10.5,"v":0},{"k":"b","w":11.0,"v":0.03},{"k":"b","w":11.2,"v":0.13},{"k":"b","w":11.3,"v":0.11},{"k":"b","w":11.5,"v":0.05},{"k":"b","w":12.0,"v":0.06},{"k":"b","w":12.5,"v":0.1},{"k":"b","w":12.75,"v":0.14},{"k":"b","w":12.9,"v":0.09},{"k":"b","w":13.0,"v":0.05},{"k":"b","w":13.5,"v":0.05},{"k":"b","w":14.0,"v":0.02},{"k":"b","w":14.5,"v":0},{"k":"b","w":15,"v":0},
{"k":"e","w":2.6,"v":0},{"k":"e","w":6.1,"v":0},{"k":"e","w":6.2,"v":0.03},{"k":"e","w":6.28,"v":0.06},{"k":"e","w":6.4,"v":0.04},{"k":"e","w":6.6,"v":0.03},{"k":"e","w":7.5,"v":0.03},{"k":"e","w":7.7,"v":0.07},{"k":"e","w":7.8,"v":0.09},{"k":"e","w":8.0,"v":0.08},{"k":"e","w":8.3,"v":0.05},{"k":"e","w":8.6,"v":0.04},{"k":"e","w":8.8,"v":0.02},{"k":"e","w":9.5,"v":0.01},{"k":"e","w":15,"v":0.005},
{"k":"g","w":2.6,"v":0},{"k":"g","w":15,"v":0},
{"k":"a","w":2.6,"v":0},{"k":"a","w":3.22,"v":0},{"k":"a","w":3.29,"v":0.17},{"k":"a","w":3.36,"v":0},{"k":"a","w":6.0,"v":0},{"k":"a","w":6.1,"v":0.02},{"k":"a","w":6.2,"v":0.12},{"k":"a","w":6.28,"v":0.2},{"k":"a","w":6.35,"v":0.14},{"k":"a","w":6.4,"v":0.09},{"k":"a","w":6.6,"v":0.05},{"k":"a","w":7.0,"v":0.04},{"k":"a","w":7.4,"v":0.06},{"k":"a","w":7.6,"v":0.11},{"k":"a","w":7.8,"v":0.16},{"k":"a","w":7.9,"v":0.17},{"k":"a","w":8.1,"v":0.11},{"k":"a","w":8.3,"v":0.06},{"k":"a","w":8.6,"v":0.08},{"k":"a","w":8.8,"v":0.03},{"k":"a","w":9.0,"v":0.01},{"k":"a","w":11.05,"v":0},{"k":"a","w":11.2,"v":0.06},{"k":"a","w":11.4,"v":0.01},{"k":"a","w":15,"v":0}
],
"r4": [
{"w":2.6,"v":0.01},{"w":2.64,"v":-0.02},{"w":2.68,"v":0.1},{"w":2.72,"v":-0.02},{"w":2.78,"v":0.01},{"w":2.84,"v":-0.05},{"w":2.9,"v":0.01},{"w":2.96,"v":-0.02},{"w":3.02,"v":0.02},{"w":3.08,"v":-0.04},{"w":3.14,"v":0.04},{"w":3.2,"v":0.07},{"w":3.26,"v":-0.01},{"w":3.32,"v":0.07},{"w":3.38,"v":0.05},{"w":3.44,"v":-0.02},{"w":3.5,"v":0.01},{"w":3.57,"v":0.13},{"w":3.62,"v":0.01},{"w":3.7,"v":-0.01},{"w":3.78,"v":-0.02},{"w":3.86,"v":0.01},{"w":3.94,"v":-0.02},{"w":4.0,"v":0.01},{"w":4.05,"v":0.04},{"w":4.1,"v":-0.04},{"w":4.15,"v":0.1},{"w":4.2,"v":-0.08},{"w":4.25,"v":0.01},{"w":4.3,"v":-0.11},{"w":4.35,"v":0.13},{"w":4.4,"v":-0.14},{"w":4.45,"v":0.11},{"w":4.5,"v":0.01},{"w":4.55,"v":0.16},{"w":4.6,"v":-0.05},{"w":4.65,"v":0.07},{"w":4.7,"v":-0.02},{"w":4.76,"v":0.04},{"w":4.82,"v":0.01},{"w":4.86,"v":-0.08},{"w":4.91,"v":-0.02},{"w":4.96,"v":0.1},{"w":5.01,"v":0.07},{"w":5.06,"v":-0.05},{"w":5.1,"v":0.32},{"w":5.13,"v":-0.08},{"w":5.18,"v":0.01},{"w":5.23,"v":0.07},{"w":5.3,"v":0.01},{"w":5.36,"v":-0.05},{"w":5.45,"v":0.1},{"w":5.52,"v":0.01},{"w":5.6,"v":-0.02},{"w":5.68,"v":0.01},{"w":5.76,"v":0.07},{"w":5.84,"v":-0.01},{"w":5.92,"v":-0.02},{"w":6.0,"v":0.02},{"w":6.06,"v":-0.08},{"w":6.14,"v":0.01},{"w":6.22,"v":0.07},{"w":6.3,"v":0.01},{"w":6.36,"v":-0.05},{"w":6.42,"v":0.04},{"w":6.48,"v":-0.08},{"w":6.55,"v":-0.01},{"w":6.62,"v":0.04},{"w":6.7,"v":-0.02},{"w":6.8,"v":0.01},{"w":6.9,"v":-0.01},{"w":7.0,"v":0.01},{"w":7.15,"v":-0.01},{"w":7.3,"v":0.02},{"w":7.45,"v":-0.01},{"w":7.6,"v":0.02},{"w":7.75,"v":-0.01},{"w":7.9,"v":0.01},{"w":8.1,"v":0.02},{"w":8.3,"v":0},{"w":8.5,"v":-0.01},{"w":8.7,"v":0.02},{"w":8.9,"v":-0.01},{"w":9.1,"v":0.02},{"w":9.3,"v":0.01},{"w":9.5,"v":-0.01},{"w":9.7,"v":0},{"w":9.8,"v":-0.04},{"w":10.0,"v":-0.05},{"w":10.2,"v":-0.02},{"w":10.4,"v":-0.01},{"w":10.6,"v":0.02},{"w":10.8,"v":0.02},{"w":11.0,"v":0.01},{"w":11.2,"v":-0.02},{"w":11.25,"v":-0.07},{"w":11.32,"v":-0.01},{"w":11.5,"v":0.02},{"w":11.7,"v":0.05},{"w":11.8,"v":0.07},{"w":11.9,"v":0.02},{"w":12.1,"v":0.04},{"w":12.3,"v":0.01},{"w":12.5,"v":0.02},{"w":12.6,"v":-0.02},{"w":12.7,"v":-0.03},{"w":12.73,"v":0.04},{"w":12.76,"v":-0.02},{"w":12.86,"v":0.1},{"w":12.9,"v":-0.06},{"w":13.0,"v":-0.01},{"w":13.2,"v":0.02},{"w":13.38,"v":0.05},{"w":13.5,"v":0},{"w":13.8,"v":-0.01},{"w":14.0,"v":-0.02},{"w":14.3,"v":-0.02},{"w":14.5,"v":0},{"w":14.7,"v":0.02},{"w":14.9,"v":0.02},{"w":15.0,"v":-0.02}
],
"t4": [
{"k":"a","t":"PAHˣ","u":"=\u00a0 24.9 %","y":3.05,"xu":9.68},
{"k":"e","t":"eVSG","u":"=\u00a0 15.3%","y":2.71,"xu":9.725},
{"k":"b","t":"PAH⁺","u":"=\u00a0 59.8%","y":2.39,"xu":9.78},
{"k":"g","t":"PAH⁰","u":"=\u00a0 0.0%","y":2.07,"xu":9.69}
]
},
"spacing": 12,
"vconcat": [
{"spacing": 0, "bounds": "flush", "vconcat": [
 {"width": 1117, "height": 230, "resolve": {"axis": {"x": "independent", "y": "independent"}}, "layer": [
  {"data": {"name": "s1"}, "mark": {"type": "line", "color": "#0000ff", "strokeWidth": 3.5, "clip": true},
   "encoding": {"x": {"field": "w", "type": "quantitative", "scale": {"domain": [2.6, 15], "nice": false}, "axis": {"orient": "bottom", "values": [4,6,8,10,12,14], "labels": false, "title": null}},
    "y": {"field": "o", "type": "quantitative", "scale": {"domain": [0, 2.07], "nice": false}, "axis": {"orient": "left", "values": [0,1,2], "title": "Flux density (10⁻¹²W/m²/μm)", "titleFontSize": 20.7, "titleX": -58, "titleY": 152, "titleAngle": -90, "titleAlign": "center", "titleBaseline": "middle"}}}},
  {"data": {"name": "s1"}, "mark": {"type": "line", "color": "#ff0000", "strokeWidth": 1.8, "clip": true},
   "encoding": {"x": {"field": "w", "type": "quantitative", "axis": {"orient": "bottom", "values": [3,3.5,4,4.5,5,5.5,6,6.5,7,7.5,8,8.5,9,9.5,10,10.5,11,11.5,12,12.5,13,13.5,14,14.5], "labels": false, "tickSize": -4.5, "title": null}},
    "y": {"field": "m", "type": "quantitative", "axis": {"orient": "left", "values": [0.2,0.4,0.6,0.8,1.2,1.4,1.6,1.8], "labels": false, "tickSize": -4.5, "title": null}}}},
  {"data": {"name": "k1"}, "transform": [{"filter": "datum.k == 'c'"}], "mark": {"type": "line", "color": "black", "strokeWidth": 1.3, "interpolate": "monotone", "clip": true},
   "encoding": {"x": {"field": "w", "type": "quantitative", "axis": {"orient": "top", "values": [4,6,8,10,12,14], "labels": false, "title": null}},
    "y": {"field": "v", "type": "quantitative", "axis": {"orient": "right", "values": [0,1,2], "labels": false, "title": null}}}},
  {"data": {"name": "k1"}, "transform": [{"filter": "datum.k == 'b'"}], "mark": {"type": "line", "color": "#0000ff", "strokeWidth": 3.2, "clip": true},
   "encoding": {"x": {"field": "w", "type": "quantitative", "axis": {"orient": "top", "values": [3,3.5,4,4.5,5,5.5,6,6.5,7,7.5,8,8.5,9,9.5,10,10.5,11,11.5,12,12.5,13,13.5,14,14.5], "labels": false, "tickSize": -4.5, "title": null}},
    "y": {"field": "v", "type": "quantitative", "axis": {"orient": "right", "values": [0.2,0.4,0.6,0.8,1.2,1.4,1.6,1.8], "labels": false, "tickSize": -4.5, "title": null}}}},
  {"data": {"name": "k1"}, "transform": [{"filter": "datum.k == 'e'"}], "mark": {"type": "line", "color": "#ff0000", "strokeWidth": 3.2, "clip": true},
   "encoding": {"x": {"field": "w", "type": "quantitative", "axis": null}, "y": {"field": "v", "type": "quantitative", "axis": null}}},
  {"data": {"name": "k1"}, "transform": [{"filter": "datum.k == 'g'"}], "mark": {"type": "line", "color": "#008000", "strokeWidth": 3.2, "clip": true},
   "encoding": {"x": {"field": "w", "type": "quantitative", "axis": null}, "y": {"field": "v", "type": "quantitative", "axis": null}}},
  {"data": {"name": "k1"}, "transform": [{"filter": "datum.k == 'a'"}], "mark": {"type": "line", "color": "#800080", "strokeWidth": 3.2, "clip": true},
   "encoding": {"x": {"field": "w", "type": "quantitative", "axis": null}, "y": {"field": "v", "type": "quantitative", "axis": null}}},
  {"data": {"values": [{"n": "IRAS 18032-2032"}]}, "mark": {"type": "rect", "fill": "#8fbbd9", "stroke": "#7f7f7f", "strokeWidth": 2, "cornerRadius": 5},
   "encoding": {"x": {"datum": 3.67, "type": "quantitative", "axis": null}, "x2": {"datum": 5.887}, "y": {"datum": 1.989, "type": "quantitative", "axis": null}, "y2": {"datum": 1.692}}},
  {"data": {"values": [{"n": "IRAS 18032-2032"}]}, "mark": {"type": "text", "align": "left", "baseline": "middle", "fontSize": 21.5, "color": "black"},
   "encoding": {"x": {"datum": 3.75, "type": "quantitative", "axis": null}, "y": {"datum": 1.84, "type": "quantitative", "axis": null}, "text": {"field": "n"}}},
  {"data": {"name": "t1"}, "mark": {"type": "text", "align": "left", "baseline": "middle", "fontSize": 21, "fontStyle": "italic"},
   "encoding": {"x": {"datum": 9.02, "type": "quantitative", "axis": null}, "y": {"field": "y", "type": "quantitative", "axis": null}, "text": {"field": "t"},
    "color": {"field": "k", "type": "nominal", "scale": {"domain": ["a","e","b","g"], "range": ["#800080","#ff0000","#0000ff","#008000"]}, "legend": null}}},
  {"data": {"name": "t1"}, "mark": {"type": "text", "align": "left", "baseline": "middle", "fontSize": 21},
   "encoding": {"x": {"field": "xu", "type": "quantitative", "axis": null}, "y": {"field": "y", "type": "quantitative", "axis": null}, "text": {"field": "u"},
    "color": {"field": "k", "type": "nominal", "legend": null}}}
 ]},
 {"width": 1117, "height": 58.4, "resolve": {"axis": {"x": "independent", "y": "independent"}}, "layer": [
  {"data": {"name": "r1"}, "mark": {"type": "line", "color": "#ffa500", "strokeWidth": 1.3},
   "encoding": {"x": {"field": "w", "type": "quantitative", "scale": {"domain": [2.6, 15], "nice": false}, "axis": {"orient": "bottom", "values": [4,6,8,10,12,14], "title": "Wavelength (μm)", "titlePadding": 6}},
    "y": {"field": "v", "type": "quantitative", "scale": {"domain": [-0.231, 0.294], "nice": false}, "axis": {"orient": "left", "values": [0], "title": null}}}},
  {"data": {"name": "r1"}, "mark": {"type": "line", "opacity": 0},
   "encoding": {"x": {"field": "w", "type": "quantitative", "axis": {"orient": "bottom", "values": [3,3.5,4,4.5,5,5.5,6,6.5,7,7.5,8,8.5,9,9.5,10,10.5,11,11.5,12,12.5,13,13.5,14,14.5], "labels": false, "tickSize": -4.5, "title": null}},
    "y": {"field": "v", "type": "quantitative", "axis": null}}},
  {"data": {"name": "r1"}, "mark": {"type": "line", "opacity": 0},
   "encoding": {"x": {"field": "w", "type": "quantitative", "axis": {"orient": "top", "values": [4,6,8,10,12,14], "labels": false, "title": null}},
    "y": {"field": "v", "type": "quantitative", "axis": {"orient": "right", "values": [0], "labels": false, "title": null}}}},
  {"data": {"name": "r1"}, "mark": {"type": "line", "opacity": 0},
   "encoding": {"x": {"field": "w", "type": "quantitative", "axis": {"orient": "top", "values": [3,3.5,4,4.5,5,5.5,6,6.5,7,7.5,8,8.5,9,9.5,10,10.5,11,11.5,12,12.5,13,13.5,14,14.5], "labels": false, "tickSize": -4.5, "title": null}},
    "y": {"field": "v", "type": "quantitative", "axis": null}}}
 ]}
]},
{"spacing": 0, "bounds": "flush", "vconcat": [
 {"width": 1117, "height": 230, "resolve": {"axis": {"x": "independent", "y": "independent"}}, "layer": [
  {"data": {"name": "s2"}, "mark": {"type": "line", "color": "#0000ff", "strokeWidth": 3.5, "clip": true},
   "encoding": {"x": {"field": "w", "type": "quantitative", "scale": {"domain": [2.6, 15], "nice": false}, "axis": {"orient": "bottom", "values": [4,6,8,10,12,14], "labels": false, "title": null}},
    "y": {"field": "o", "type": "quantitative", "scale": {"domain": [0, 5.52], "nice": false}, "axis": {"orient": "left", "values": [0,2,4], "title": "Flux density (10⁻¹²W/m²/μm)", "titleFontSize": 20.7, "titleX": -58, "titleY": 152, "titleAngle": -90, "titleAlign": "center", "titleBaseline": "middle"}}}},
  {"data": {"name": "s2"}, "mark": {"type": "line", "color": "#ff0000", "strokeWidth": 1.8, "clip": true},
   "encoding": {"x": {"field": "w", "type": "quantitative", "axis": {"orient": "bottom", "values": [3,3.5,4,4.5,5,5.5,6,6.5,7,7.5,8,8.5,9,9.5,10,10.5,11,11.5,12,12.5,13,13.5,14,14.5], "labels": false, "tickSize": -4.5, "title": null}},
    "y": {"field": "m", "type": "quantitative", "axis": {"orient": "left", "values": [0.5,1,1.5,2.5,3,3.5,4.5,5,5.5], "labels": false, "tickSize": -4.5, "title": null}}}},
  {"data": {"name": "k2"}, "transform": [{"filter": "datum.k == 'c'"}], "mark": {"type": "line", "color": "black", "strokeWidth": 1.3, "interpolate": "monotone", "clip": true},
   "encoding": {"x": {"field": "w", "type": "quantitative", "axis": {"orient": "top", "values": [4,6,8,10,12,14], "labels": false, "title": null}},
    "y": {"field": "v", "type": "quantitative", "axis": {"orient": "right", "values": [0,2,4], "labels": false, "title": null}}}},
  {"data": {"name": "k2"}, "transform": [{"filter": "datum.k == 'b'"}], "mark": {"type": "line", "color": "#0000ff", "strokeWidth": 3.2, "clip": true},
   "encoding": {"x": {"field": "w", "type": "quantitative", "axis": {"orient": "top", "values": [3,3.5,4,4.5,5,5.5,6,6.5,7,7.5,8,8.5,9,9.5,10,10.5,11,11.5,12,12.5,13,13.5,14,14.5], "labels": false, "tickSize": -4.5, "title": null}},
    "y": {"field": "v", "type": "quantitative", "axis": {"orient": "right", "values": [0.5,1,1.5,2.5,3,3.5,4.5,5,5.5], "labels": false, "tickSize": -4.5, "title": null}}}},
  {"data": {"name": "k2"}, "transform": [{"filter": "datum.k == 'e'"}], "mark": {"type": "line", "color": "#ff0000", "strokeWidth": 3.2, "clip": true},
   "encoding": {"x": {"field": "w", "type": "quantitative", "axis": null}, "y": {"field": "v", "type": "quantitative", "axis": null}}},
  {"data": {"name": "k2"}, "transform": [{"filter": "datum.k == 'g'"}], "mark": {"type": "line", "color": "#008000", "strokeWidth": 3.2, "clip": true},
   "encoding": {"x": {"field": "w", "type": "quantitative", "axis": null}, "y": {"field": "v", "type": "quantitative", "axis": null}}},
  {"data": {"name": "k2"}, "transform": [{"filter": "datum.k == 'a'"}], "mark": {"type": "line", "color": "#800080", "strokeWidth": 3.2, "clip": true},
   "encoding": {"x": {"field": "w", "type": "quantitative", "axis": null}, "y": {"field": "v", "type": "quantitative", "axis": null}}},
  {"data": {"values": [{"n": "IRAS 15384-5348"}]}, "mark": {"type": "rect", "fill": "#8fbbd9", "stroke": "#7f7f7f", "strokeWidth": 2, "cornerRadius": 5},
   "encoding": {"x": {"datum": 3.67, "type": "quantitative", "axis": null}, "x2": {"datum": 5.887}, "y": {"datum": 5.304, "type": "quantitative", "axis": null}, "y2": {"datum": 4.512}}},
  {"data": {"values": [{"n": "IRAS 15384-5348"}]}, "mark": {"type": "text", "align": "left", "baseline": "middle", "fontSize": 21.5, "color": "black"},
   "encoding": {"x": {"datum": 3.75, "type": "quantitative", "axis": null}, "y": {"datum": 4.908, "type": "quantitative", "axis": null}, "text": {"field": "n"}}},
  {"data": {"name": "t2"}, "mark": {"type": "text", "align": "left", "baseline": "middle", "fontSize": 21, "fontStyle": "italic"},
   "encoding": {"x": {"datum": 9.02, "type": "quantitative", "axis": null}, "y": {"field": "y", "type": "quantitative", "axis": null}, "text": {"field": "t"},
    "color": {"field": "k", "type": "nominal", "scale": {"domain": ["a","e","b","g"], "range": ["#800080","#ff0000","#0000ff","#008000"]}, "legend": null}}},
  {"data": {"name": "t2"}, "mark": {"type": "text", "align": "left", "baseline": "middle", "fontSize": 21},
   "encoding": {"x": {"field": "xu", "type": "quantitative", "axis": null}, "y": {"field": "y", "type": "quantitative", "axis": null}, "text": {"field": "u"},
    "color": {"field": "k", "type": "nominal", "legend": null}}}
 ]},
 {"width": 1117, "height": 58.4, "resolve": {"axis": {"x": "independent", "y": "independent"}}, "layer": [
  {"data": {"name": "r2"}, "mark": {"type": "line", "color": "#ffa500", "strokeWidth": 1.3},
   "encoding": {"x": {"field": "w", "type": "quantitative", "scale": {"domain": [2.6, 15], "nice": false}, "axis": {"orient": "bottom", "values": [4,6,8,10,12,14], "title": "Wavelength (μm)", "titlePadding": 6}},
    "y": {"field": "v", "type": "quantitative", "scale": {"domain": [-0.249, 0.276], "nice": false}, "axis": {"orient": "left", "values": [0], "title": null}}}},
  {"data": {"name": "r2"}, "mark": {"type": "line", "opacity": 0},
   "encoding": {"x": {"field": "w", "type": "quantitative", "axis": {"orient": "bottom", "values": [3,3.5,4,4.5,5,5.5,6,6.5,7,7.5,8,8.5,9,9.5,10,10.5,11,11.5,12,12.5,13,13.5,14,14.5], "labels": false, "tickSize": -4.5, "title": null}},
    "y": {"field": "v", "type": "quantitative", "axis": null}}},
  {"data": {"name": "r2"}, "mark": {"type": "line", "opacity": 0},
   "encoding": {"x": {"field": "w", "type": "quantitative", "axis": {"orient": "top", "values": [4,6,8,10,12,14], "labels": false, "title": null}},
    "y": {"field": "v", "type": "quantitative", "axis": {"orient": "right", "values": [0], "labels": false, "title": null}}}},
  {"data": {"name": "r2"}, "mark": {"type": "line", "opacity": 0},
   "encoding": {"x": {"field": "w", "type": "quantitative", "axis": {"orient": "top", "values": [3,3.5,4,4.5,5,5.5,6,6.5,7,7.5,8,8.5,9,9.5,10,10.5,11,11.5,12,12.5,13,13.5,14,14.5], "labels": false, "tickSize": -4.5, "title": null}},
    "y": {"field": "v", "type": "quantitative", "axis": null}}}
 ]}
]},
{"spacing": 0, "bounds": "flush", "vconcat": [
 {"width": 1117, "height": 230, "resolve": {"axis": {"x": "independent", "y": "independent"}}, "layer": [
  {"data": {"name": "s3"}, "mark": {"type": "line", "color": "#0000ff", "strokeWidth": 3.5, "clip": true},
   "encoding": {"x": {"field": "w", "type": "quantitative", "scale": {"domain": [2.6, 15], "nice": false}, "axis": {"orient": "bottom", "values": [4,6,8,10,12,14], "labels": false, "title": null}},
    "y": {"field": "o", "type": "quantitative", "scale": {"domain": [0, 7.82], "nice": false}, "axis": {"orient": "left", "values": [0,2,4,6], "title": "Flux density (10⁻¹²W/m²/μm)", "titleFontSize": 20.7, "titleX": -58, "titleY": 152, "titleAngle": -90, "titleAlign": "center", "titleBaseline": "middle"}}}},
  {"data": {"name": "s3"}, "mark": {"type": "line", "color": "#ff0000", "strokeWidth": 1.8, "clip": true},
   "encoding": {"x": {"field": "w", "type": "quantitative", "axis": {"orient": "bottom", "values": [3,3.5,4,4.5,5,5.5,6,6.5,7,7.5,8,8.5,9,9.5,10,10.5,11,11.5,12,12.5,13,13.5,14,14.5], "labels": false, "tickSize": -4.5, "title": null}},
    "y": {"field": "m", "type": "quantitative", "axis": {"orient": "left", "values": [0.5,1,1.5,2.5,3,3.5,4.5,5,5.5,6.5,7,7.5], "labels": false, "tickSize": -4.5, "title": null}}}},
  {"data": {"name": "k3"}, "transform": [{"filter": "datum.k == 'c'"}], "mark": {"type": "line", "color": "black", "strokeWidth": 1.3, "interpolate": "monotone", "clip": true},
   "encoding": {"x": {"field": "w", "type": "quantitative", "axis": {"orient": "top", "values": [4,6,8,10,12,14], "labels": false, "title": null}},
    "y": {"field": "v", "type": "quantitative", "axis": {"orient": "right", "values": [0,2,4,6], "labels": false, "title": null}}}},
  {"data": {"name": "k3"}, "transform": [{"filter": "datum.k == 'b'"}], "mark": {"type": "line", "color": "#0000ff", "strokeWidth": 3.2, "clip": true},
   "encoding": {"x": {"field": "w", "type": "quantitative", "axis": {"orient": "top", "values": [3,3.5,4,4.5,5,5.5,6,6.5,7,7.5,8,8.5,9,9.5,10,10.5,11,11.5,12,12.5,13,13.5,14,14.5], "labels": false, "tickSize": -4.5, "title": null}},
    "y": {"field": "v", "type": "quantitative", "axis": {"orient": "right", "values": [0.5,1,1.5,2.5,3,3.5,4.5,5,5.5,6.5,7,7.5], "labels": false, "tickSize": -4.5, "title": null}}}},
  {"data": {"name": "k3"}, "transform": [{"filter": "datum.k == 'e'"}], "mark": {"type": "line", "color": "#ff0000", "strokeWidth": 3.2, "clip": true},
   "encoding": {"x": {"field": "w", "type": "quantitative", "axis": null}, "y": {"field": "v", "type": "quantitative", "axis": null}}},
  {"data": {"name": "k3"}, "transform": [{"filter": "datum.k == 'g'"}], "mark": {"type": "line", "color": "#008000", "strokeWidth": 3.2, "clip": true},
   "encoding": {"x": {"field": "w", "type": "quantitative", "axis": null}, "y": {"field": "v", "type": "quantitative", "axis": null}}},
  {"data": {"name": "k3"}, "transform": [{"filter": "datum.k == 'a'"}], "mark": {"type": "line", "color": "#800080", "strokeWidth": 3.2, "clip": true},
   "encoding": {"x": {"field": "w", "type": "quantitative", "axis": null}, "y": {"field": "v", "type": "quantitative", "axis": null}}},
  {"data": {"values": [{"n": "BD +30 3639"}]}, "mark": {"type": "rect", "fill": "#8fbbd9", "stroke": "#7f7f7f", "strokeWidth": 2, "cornerRadius": 5},
   "encoding": {"x": {"datum": 3.67, "type": "quantitative", "axis": null}, "x2": {"datum": 5.418}, "y": {"datum": 7.514, "type": "quantitative", "axis": null}, "y2": {"datum": 6.392}}},
  {"data": {"values": [{"n": "BD +30 3639"}]}, "mark": {"type": "text", "align": "left", "baseline": "middle", "fontSize": 21.5, "color": "black"},
   "encoding": {"x": {"datum": 3.75, "type": "quantitative", "axis": null}, "y": {"datum": 6.953, "type": "quantitative", "axis": null}, "text": {"field": "n"}}},
  {"data": {"name": "t3"}, "mark": {"type": "text", "align": "left", "baseline": "middle", "fontSize": 21, "fontStyle": "italic"},
   "encoding": {"x": {"datum": 9.02, "type": "quantitative", "axis": null}, "y": {"field": "y", "type": "quantitative", "axis": null}, "text": {"field": "t"},
    "color": {"field": "k", "type": "nominal", "scale": {"domain": ["a","e","b","g"], "range": ["#800080","#ff0000","#0000ff","#008000"]}, "legend": null}}},
  {"data": {"name": "t3"}, "mark": {"type": "text", "align": "left", "baseline": "middle", "fontSize": 21},
   "encoding": {"x": {"field": "xu", "type": "quantitative", "axis": null}, "y": {"field": "y", "type": "quantitative", "axis": null}, "text": {"field": "u"},
    "color": {"field": "k", "type": "nominal", "legend": null}}}
 ]},
 {"width": 1117, "height": 58.4, "resolve": {"axis": {"x": "independent", "y": "independent"}}, "layer": [
  {"data": {"name": "r3"}, "mark": {"type": "line", "color": "#ffa500", "strokeWidth": 1.3},
   "encoding": {"x": {"field": "w", "type": "quantitative", "scale": {"domain": [2.6, 15], "nice": false}, "axis": {"orient": "bottom", "values": [4,6,8,10,12,14], "title": "Wavelength (μm)", "titlePadding": 6}},
    "y": {"field": "v", "type": "quantitative", "scale": {"domain": [-0.255, 0.27], "nice": false}, "axis": {"orient": "left", "values": [0], "title": null}}}},
  {"data": {"name": "r3"}, "mark": {"type": "line", "opacity": 0},
   "encoding": {"x": {"field": "w", "type": "quantitative", "axis": {"orient": "bottom", "values": [3,3.5,4,4.5,5,5.5,6,6.5,7,7.5,8,8.5,9,9.5,10,10.5,11,11.5,12,12.5,13,13.5,14,14.5], "labels": false, "tickSize": -4.5, "title": null}},
    "y": {"field": "v", "type": "quantitative", "axis": {"orient": "left", "values": [-0.162], "labels": false, "tickSize": -4.5, "title": null}}}},
  {"data": {"name": "r3"}, "mark": {"type": "line", "opacity": 0},
   "encoding": {"x": {"field": "w", "type": "quantitative", "axis": {"orient": "top", "values": [4,6,8,10,12,14], "labels": false, "title": null}},
    "y": {"field": "v", "type": "quantitative", "axis": {"orient": "right", "values": [0], "labels": false, "title": null}}}},
  {"data": {"name": "r3"}, "mark": {"type": "line", "opacity": 0},
   "encoding": {"x": {"field": "w", "type": "quantitative", "axis": {"orient": "top", "values": [3,3.5,4,4.5,5,5.5,6,6.5,7,7.5,8,8.5,9,9.5,10,10.5,11,11.5,12,12.5,13,13.5,14,14.5], "labels": false, "tickSize": -4.5, "title": null}},
    "y": {"field": "v", "type": "quantitative", "axis": {"orient": "right", "values": [-0.162], "labels": false, "tickSize": -4.5, "title": null}}}}
 ]}
]},
{"spacing": 0, "bounds": "flush", "vconcat": [
 {"width": 1117, "height": 230, "resolve": {"axis": {"x": "independent", "y": "independent"}}, "layer": [
  {"data": {"name": "s4"}, "mark": {"type": "line", "color": "#0000ff", "strokeWidth": 3.5, "clip": true},
   "encoding": {"x": {"field": "w", "type": "quantitative", "scale": {"domain": [2.6, 15], "nice": false}, "axis": {"orient": "bottom", "values": [4,6,8,10,12,14], "labels": false, "title": null}},
    "y": {"field": "o", "type": "quantitative", "scale": {"domain": [0, 3.38], "nice": false}, "axis": {"orient": "left", "values": [0,1,2,3], "title": "Flux density (10⁻¹²W/m²/μm)", "titleFontSize": 20.7, "titleX": -58, "titleY": 152, "titleAngle": -90, "titleAlign": "center", "titleBaseline": "middle"}}}},
  {"data": {"name": "s4"}, "mark": {"type": "line", "color": "#ff0000", "strokeWidth": 1.8, "clip": true},
   "encoding": {"x": {"field": "w", "type": "quantitative", "axis": {"orient": "bottom", "values": [3,3.5,4,4.5,5,5.5,6,6.5,7,7.5,8,8.5,9,9.5,10,10.5,11,11.5,12,12.5,13,13.5,14,14.5], "labels": false, "tickSize": -4.5, "title": null}},
    "y": {"field": "m", "type": "quantitative", "axis": {"orient": "left", "values": [0.2,0.4,0.6,0.8,1.2,1.4,1.6,1.8,2.2,2.4,2.6,2.8,3.2], "labels": false, "tickSize": -4.5, "title": null}}}},
  {"data": {"name": "k4"}, "transform": [{"filter": "datum.k == 'c'"}], "mark": {"type": "line", "color": "black", "strokeWidth": 1.3, "interpolate": "monotone", "clip": true},
   "encoding": {"x": {"field": "w", "type": "quantitative", "axis": {"orient": "top", "values": [4,6,8,10,12,14], "labels": false, "title": null}},
    "y": {"field": "v", "type": "quantitative", "axis": {"orient": "right", "values": [0,1,2,3], "labels": false, "title": null}}}},
  {"data": {"name": "k4"}, "transform": [{"filter": "datum.k == 'b'"}], "mark": {"type": "line", "color": "#0000ff", "strokeWidth": 3.2, "clip": true},
   "encoding": {"x": {"field": "w", "type": "quantitative", "axis": {"orient": "top", "values": [3,3.5,4,4.5,5,5.5,6,6.5,7,7.5,8,8.5,9,9.5,10,10.5,11,11.5,12,12.5,13,13.5,14,14.5], "labels": false, "tickSize": -4.5, "title": null}},
    "y": {"field": "v", "type": "quantitative", "axis": {"orient": "right", "values": [0.2,0.4,0.6,0.8,1.2,1.4,1.6,1.8,2.2,2.4,2.6,2.8,3.2], "labels": false, "tickSize": -4.5, "title": null}}}},
  {"data": {"name": "k4"}, "transform": [{"filter": "datum.k == 'e'"}], "mark": {"type": "line", "color": "#ff0000", "strokeWidth": 3.2, "clip": true},
   "encoding": {"x": {"field": "w", "type": "quantitative", "axis": null}, "y": {"field": "v", "type": "quantitative", "axis": null}}},
  {"data": {"name": "k4"}, "transform": [{"filter": "datum.k == 'g'"}], "mark": {"type": "line", "color": "#008000", "strokeWidth": 3.2, "clip": true},
   "encoding": {"x": {"field": "w", "type": "quantitative", "axis": null}, "y": {"field": "v", "type": "quantitative", "axis": null}}},
  {"data": {"name": "k4"}, "transform": [{"filter": "datum.k == 'a'"}], "mark": {"type": "line", "color": "#800080", "strokeWidth": 3.2, "clip": true},
   "encoding": {"x": {"field": "w", "type": "quantitative", "axis": null}, "y": {"field": "v", "type": "quantitative", "axis": null}}},
  {"data": {"values": [{"n": "IRAS 18502+0051"}]}, "mark": {"type": "rect", "fill": "#8fbbd9", "stroke": "#7f7f7f", "strokeWidth": 2, "cornerRadius": 5},
   "encoding": {"x": {"datum": 3.67, "type": "quantitative", "axis": null}, "x2": {"datum": 5.99}, "y": {"datum": 3.248, "type": "quantitative", "axis": null}, "y2": {"datum": 2.763}}},
  {"data": {"values": [{"n": "IRAS 18502+0051"}]}, "mark": {"type": "text", "align": "left", "baseline": "middle", "fontSize": 21.5, "color": "black"},
   "encoding": {"x": {"datum": 3.75, "type": "quantitative", "axis": null}, "y": {"datum": 3.005, "type": "quantitative", "axis": null}, "text": {"field": "n"}}},
  {"data": {"name": "t4"}, "mark": {"type": "text", "align": "left", "baseline": "middle", "fontSize": 21, "fontStyle": "italic"},
   "encoding": {"x": {"datum": 9.02, "type": "quantitative", "axis": null}, "y": {"field": "y", "type": "quantitative", "axis": null}, "text": {"field": "t"},
    "color": {"field": "k", "type": "nominal", "scale": {"domain": ["a","e","b","g"], "range": ["#800080","#ff0000","#0000ff","#008000"]}, "legend": null}}},
  {"data": {"name": "t4"}, "mark": {"type": "text", "align": "left", "baseline": "middle", "fontSize": 21},
   "encoding": {"x": {"field": "xu", "type": "quantitative", "axis": null}, "y": {"field": "y", "type": "quantitative", "axis": null}, "text": {"field": "u"},
    "color": {"field": "k", "type": "nominal", "legend": null}}}
 ]},
 {"width": 1117, "height": 58.4, "resolve": {"axis": {"x": "independent", "y": "independent"}}, "layer": [
  {"data": {"name": "r4"}, "mark": {"type": "line", "color": "#ffa500", "strokeWidth": 1.3},
   "encoding": {"x": {"field": "w", "type": "quantitative", "scale": {"domain": [2.6, 15], "nice": false}, "axis": {"orient": "bottom", "values": [4,6,8,10,12,14], "title": "Wavelength (μm)", "titlePadding": 6}},
    "y": {"field": "v", "type": "quantitative", "scale": {"domain": [-0.18, 0.345], "nice": false}, "axis": {"orient": "left", "values": [0], "title": null}}}},
  {"data": {"name": "r4"}, "mark": {"type": "line", "opacity": 0},
   "encoding": {"x": {"field": "w", "type": "quantitative", "axis": {"orient": "bottom", "values": [3,3.5,4,4.5,5,5.5,6,6.5,7,7.5,8,8.5,9,9.5,10,10.5,11,11.5,12,12.5,13,13.5,14,14.5], "labels": false, "tickSize": -4.5, "title": null}},
    "y": {"field": "v", "type": "quantitative", "axis": {"orient": "left", "values": [0.228], "labels": false, "tickSize": -4.5, "title": null}}}},
  {"data": {"name": "r4"}, "mark": {"type": "line", "opacity": 0},
   "encoding": {"x": {"field": "w", "type": "quantitative", "axis": {"orient": "top", "values": [4,6,8,10,12,14], "labels": false, "title": null}},
    "y": {"field": "v", "type": "quantitative", "axis": {"orient": "right", "values": [0], "labels": false, "title": null}}}},
  {"data": {"name": "r4"}, "mark": {"type": "line", "opacity": 0},
   "encoding": {"x": {"field": "w", "type": "quantitative", "axis": {"orient": "top", "values": [3,3.5,4,4.5,5,5.5,6,6.5,7,7.5,8,8.5,9,9.5,10,10.5,11,11.5,12,12.5,13,13.5,14,14.5], "labels": false, "tickSize": -4.5, "title": null}},
    "y": {"field": "v", "type": "quantitative", "axis": {"orient": "right", "values": [0.228], "labels": false, "tickSize": -4.5, "title": null}}}}
 ]}
]}
]
}
